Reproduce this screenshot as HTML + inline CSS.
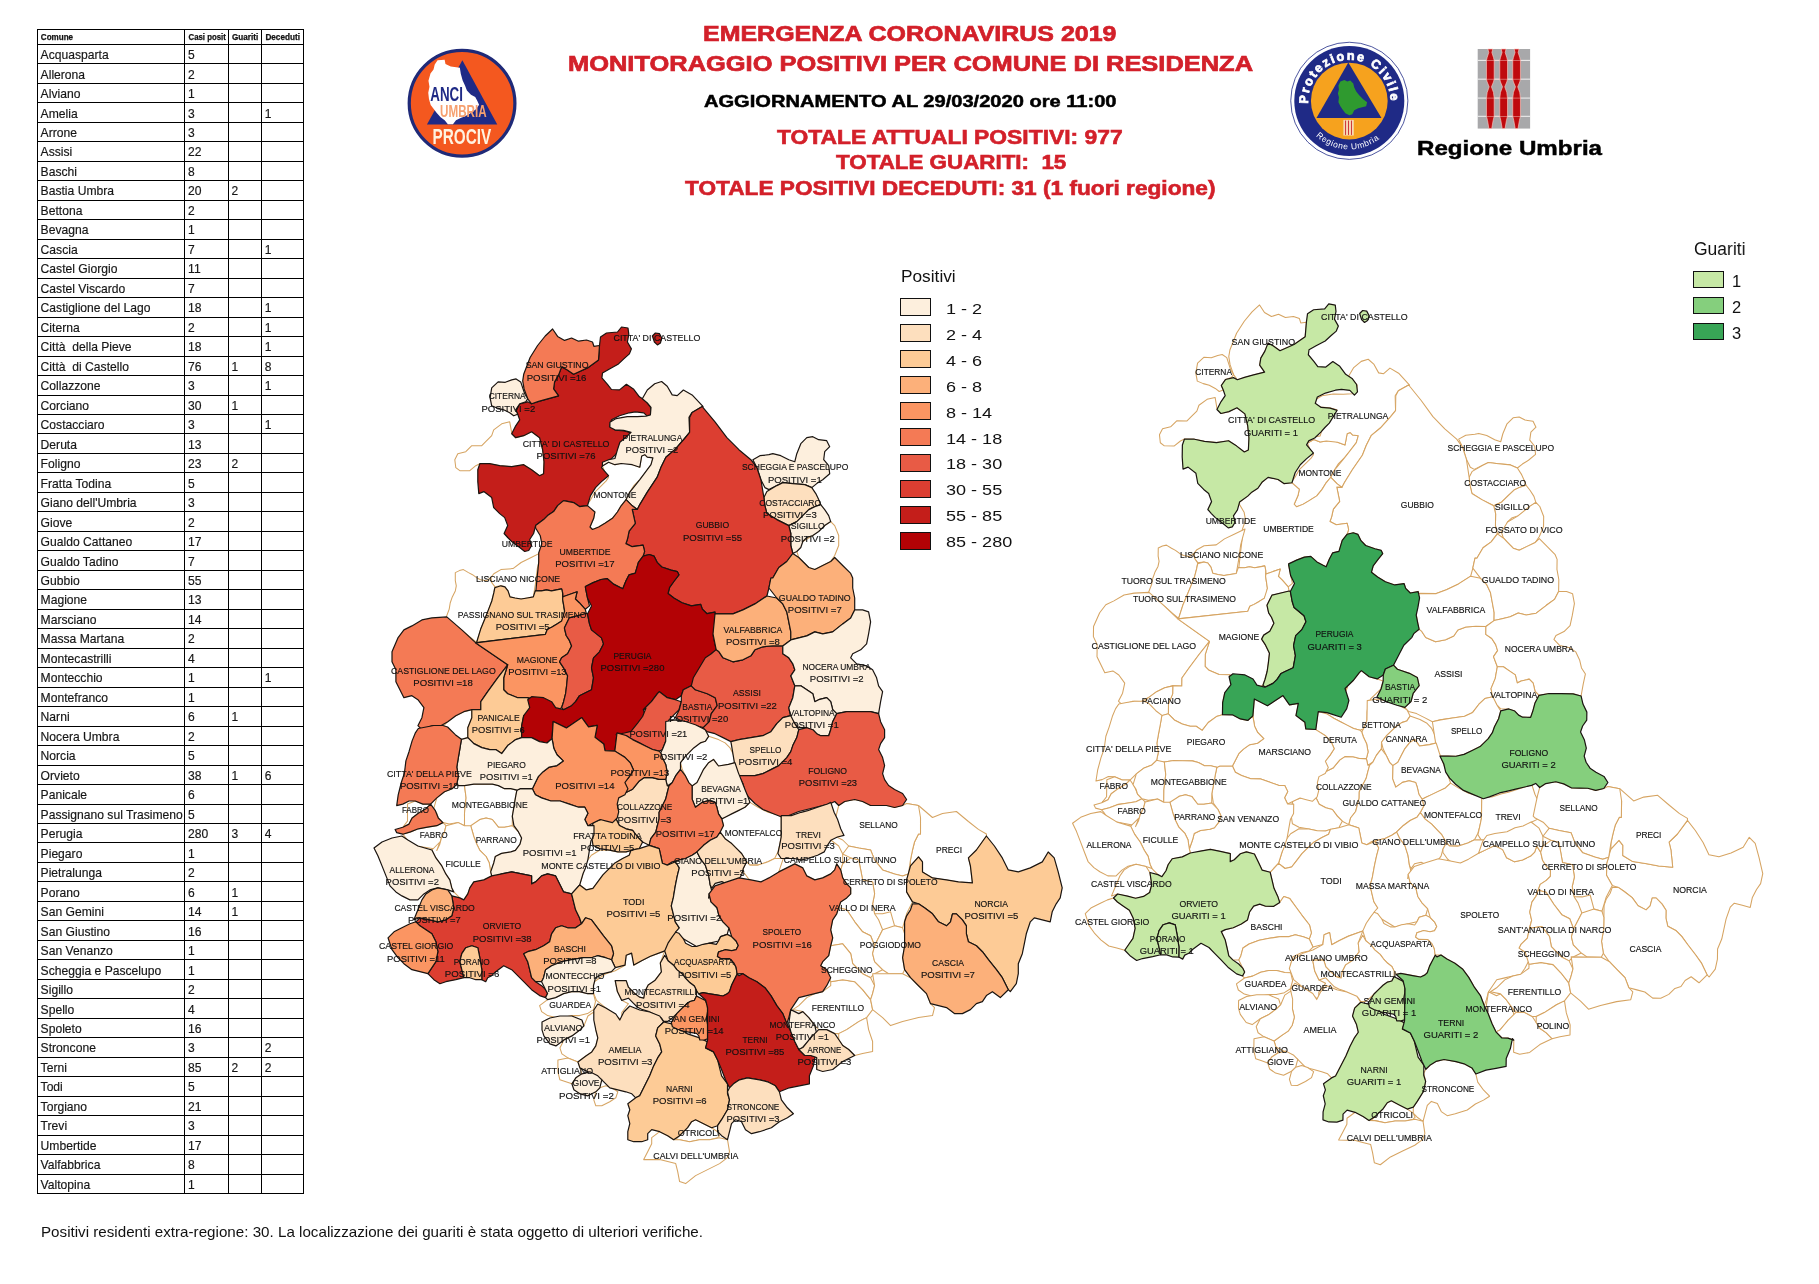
<!DOCTYPE html><html><head><meta charset="utf-8"><style>
html,body{margin:0;padding:0;background:#fff;}
body{width:1819px;height:1284px;position:relative;overflow:hidden;font-family:"Liberation Sans",sans-serif;}
.abs{position:absolute;will-change:transform;}
.tx{position:absolute;white-space:nowrap;line-height:1;transform-origin:0 0;will-change:transform;}
</style></head><body>

<svg class="abs" style="left:0;top:0" width="320" height="1210" viewBox="0 0 320 1210">
<g stroke="#000" stroke-width="1" shape-rendering="crispEdges">
<line x1="37" x2="304.2" y1="29.50" y2="29.50"/>
<line x1="37" x2="304.2" y1="44.90" y2="44.90"/>
<line x1="37" x2="304.2" y1="63.50" y2="63.50"/>
<line x1="37" x2="304.2" y1="83.50" y2="83.50"/>
<line x1="37" x2="304.2" y1="102.50" y2="102.50"/>
<line x1="37" x2="304.2" y1="122.50" y2="122.50"/>
<line x1="37" x2="304.2" y1="141.50" y2="141.50"/>
<line x1="37" x2="304.2" y1="161.50" y2="161.50"/>
<line x1="37" x2="304.2" y1="180.50" y2="180.50"/>
<line x1="37" x2="304.2" y1="200.50" y2="200.50"/>
<line x1="37" x2="304.2" y1="219.50" y2="219.50"/>
<line x1="37" x2="304.2" y1="239.50" y2="239.50"/>
<line x1="37" x2="304.2" y1="258.50" y2="258.50"/>
<line x1="37" x2="304.2" y1="278.50" y2="278.50"/>
<line x1="37" x2="304.2" y1="297.50" y2="297.50"/>
<line x1="37" x2="304.2" y1="317.50" y2="317.50"/>
<line x1="37" x2="304.2" y1="336.50" y2="336.50"/>
<line x1="37" x2="304.2" y1="356.50" y2="356.50"/>
<line x1="37" x2="304.2" y1="375.50" y2="375.50"/>
<line x1="37" x2="304.2" y1="395.50" y2="395.50"/>
<line x1="37" x2="304.2" y1="414.50" y2="414.50"/>
<line x1="37" x2="304.2" y1="433.50" y2="433.50"/>
<line x1="37" x2="304.2" y1="453.50" y2="453.50"/>
<line x1="37" x2="304.2" y1="472.50" y2="472.50"/>
<line x1="37" x2="304.2" y1="492.50" y2="492.50"/>
<line x1="37" x2="304.2" y1="511.50" y2="511.50"/>
<line x1="37" x2="304.2" y1="531.50" y2="531.50"/>
<line x1="37" x2="304.2" y1="550.50" y2="550.50"/>
<line x1="37" x2="304.2" y1="570.50" y2="570.50"/>
<line x1="37" x2="304.2" y1="589.50" y2="589.50"/>
<line x1="37" x2="304.2" y1="609.50" y2="609.50"/>
<line x1="37" x2="304.2" y1="628.50" y2="628.50"/>
<line x1="37" x2="304.2" y1="648.50" y2="648.50"/>
<line x1="37" x2="304.2" y1="667.50" y2="667.50"/>
<line x1="37" x2="304.2" y1="687.50" y2="687.50"/>
<line x1="37" x2="304.2" y1="706.50" y2="706.50"/>
<line x1="37" x2="304.2" y1="726.50" y2="726.50"/>
<line x1="37" x2="304.2" y1="745.50" y2="745.50"/>
<line x1="37" x2="304.2" y1="765.50" y2="765.50"/>
<line x1="37" x2="304.2" y1="784.50" y2="784.50"/>
<line x1="37" x2="304.2" y1="804.50" y2="804.50"/>
<line x1="37" x2="304.2" y1="823.50" y2="823.50"/>
<line x1="37" x2="304.2" y1="842.50" y2="842.50"/>
<line x1="37" x2="304.2" y1="862.50" y2="862.50"/>
<line x1="37" x2="304.2" y1="881.50" y2="881.50"/>
<line x1="37" x2="304.2" y1="901.50" y2="901.50"/>
<line x1="37" x2="304.2" y1="920.50" y2="920.50"/>
<line x1="37" x2="304.2" y1="940.50" y2="940.50"/>
<line x1="37" x2="304.2" y1="959.50" y2="959.50"/>
<line x1="37" x2="304.2" y1="979.50" y2="979.50"/>
<line x1="37" x2="304.2" y1="998.50" y2="998.50"/>
<line x1="37" x2="304.2" y1="1018.50" y2="1018.50"/>
<line x1="37" x2="304.2" y1="1037.50" y2="1037.50"/>
<line x1="37" x2="304.2" y1="1057.50" y2="1057.50"/>
<line x1="37" x2="304.2" y1="1076.50" y2="1076.50"/>
<line x1="37" x2="304.2" y1="1096.50" y2="1096.50"/>
<line x1="37" x2="304.2" y1="1115.50" y2="1115.50"/>
<line x1="37" x2="304.2" y1="1135.50" y2="1135.50"/>
<line x1="37" x2="304.2" y1="1154.50" y2="1154.50"/>
<line x1="37" x2="304.2" y1="1174.50" y2="1174.50"/>
<line x1="37" x2="304.2" y1="1193.50" y2="1193.50"/>
<line x1="37.50" x2="37.50" y1="29" y2="1194.00"/>
<line x1="184.50" x2="184.50" y1="29" y2="1194.00"/>
<line x1="228.50" x2="228.50" y1="29" y2="1194.00"/>
<line x1="261.50" x2="261.50" y1="29" y2="1194.00"/>
<line x1="303.50" x2="303.50" y1="29" y2="1194.00"/>
</g>
<g font-family="Liberation Sans" font-weight="bold" font-size="8.3" fill="#111" stroke="#111" stroke-width="0.25">
<text x="40.8" y="40.0" textLength="32.3" lengthAdjust="spacingAndGlyphs">Comune</text>
<text x="188.5" y="40.0" textLength="37.3" lengthAdjust="spacingAndGlyphs">Casi posit</text>
<text x="232.0" y="40.0" textLength="26.2" lengthAdjust="spacingAndGlyphs">Guariti</text>
<text x="265.4" y="40.0" textLength="34.6" lengthAdjust="spacingAndGlyphs">Deceduti</text>
</g>
<g font-family="Liberation Sans" font-size="12.9" fill="#161616" stroke="#161616" stroke-width="0.18">
<text x="40.6" y="59.10" textLength="68.1" lengthAdjust="spacingAndGlyphs">Acquasparta</text>
<text x="188.1" y="59.10" textLength="6.7" lengthAdjust="spacingAndGlyphs">5</text>
<text x="40.6" y="78.58" textLength="44.5" lengthAdjust="spacingAndGlyphs">Allerona</text>
<text x="188.1" y="78.58" textLength="6.7" lengthAdjust="spacingAndGlyphs">2</text>
<text x="40.6" y="98.06" textLength="39.8" lengthAdjust="spacingAndGlyphs">Alviano</text>
<text x="188.1" y="98.06" textLength="6.7" lengthAdjust="spacingAndGlyphs">1</text>
<text x="40.6" y="117.53" textLength="37.1" lengthAdjust="spacingAndGlyphs">Amelia</text>
<text x="188.1" y="117.53" textLength="6.7" lengthAdjust="spacingAndGlyphs">3</text>
<text x="264.8" y="117.53" textLength="6.7" lengthAdjust="spacingAndGlyphs">1</text>
<text x="40.6" y="137.01" textLength="36.4" lengthAdjust="spacingAndGlyphs">Arrone</text>
<text x="188.1" y="137.01" textLength="6.7" lengthAdjust="spacingAndGlyphs">3</text>
<text x="40.6" y="156.49" textLength="31.7" lengthAdjust="spacingAndGlyphs">Assisi</text>
<text x="188.1" y="156.49" textLength="13.5" lengthAdjust="spacingAndGlyphs">22</text>
<text x="40.6" y="175.97" textLength="36.4" lengthAdjust="spacingAndGlyphs">Baschi</text>
<text x="188.1" y="175.97" textLength="6.7" lengthAdjust="spacingAndGlyphs">8</text>
<text x="40.6" y="195.45" textLength="73.5" lengthAdjust="spacingAndGlyphs">Bastia Umbra</text>
<text x="188.1" y="195.45" textLength="13.5" lengthAdjust="spacingAndGlyphs">20</text>
<text x="231.5" y="195.45" textLength="6.7" lengthAdjust="spacingAndGlyphs">2</text>
<text x="40.6" y="214.92" textLength="41.8" lengthAdjust="spacingAndGlyphs">Bettona</text>
<text x="188.1" y="214.92" textLength="6.7" lengthAdjust="spacingAndGlyphs">2</text>
<text x="40.6" y="234.40" textLength="47.9" lengthAdjust="spacingAndGlyphs">Bevagna</text>
<text x="188.1" y="234.40" textLength="6.7" lengthAdjust="spacingAndGlyphs">1</text>
<text x="40.6" y="253.88" textLength="37.1" lengthAdjust="spacingAndGlyphs">Cascia</text>
<text x="188.1" y="253.88" textLength="6.7" lengthAdjust="spacingAndGlyphs">7</text>
<text x="264.8" y="253.88" textLength="6.7" lengthAdjust="spacingAndGlyphs">1</text>
<text x="40.6" y="273.36" textLength="76.8" lengthAdjust="spacingAndGlyphs">Castel Giorgio</text>
<text x="188.1" y="273.36" textLength="12.6" lengthAdjust="spacingAndGlyphs">11</text>
<text x="40.6" y="292.84" textLength="84.7" lengthAdjust="spacingAndGlyphs">Castel Viscardo</text>
<text x="188.1" y="292.84" textLength="6.7" lengthAdjust="spacingAndGlyphs">7</text>
<text x="40.6" y="312.31" textLength="109.9" lengthAdjust="spacingAndGlyphs">Castiglione del Lago</text>
<text x="188.1" y="312.31" textLength="13.5" lengthAdjust="spacingAndGlyphs">18</text>
<text x="264.8" y="312.31" textLength="6.7" lengthAdjust="spacingAndGlyphs">1</text>
<text x="40.6" y="331.79" textLength="39.1" lengthAdjust="spacingAndGlyphs">Citerna</text>
<text x="188.1" y="331.79" textLength="6.7" lengthAdjust="spacingAndGlyphs">2</text>
<text x="264.8" y="331.79" textLength="6.7" lengthAdjust="spacingAndGlyphs">1</text>
<text x="40.6" y="351.27" textLength="91.0" lengthAdjust="spacingAndGlyphs">Città&nbsp; della Pieve</text>
<text x="188.1" y="351.27" textLength="13.5" lengthAdjust="spacingAndGlyphs">18</text>
<text x="264.8" y="351.27" textLength="6.7" lengthAdjust="spacingAndGlyphs">1</text>
<text x="40.6" y="370.75" textLength="88.3" lengthAdjust="spacingAndGlyphs">Città&nbsp; di Castello</text>
<text x="188.1" y="370.75" textLength="13.5" lengthAdjust="spacingAndGlyphs">76</text>
<text x="231.5" y="370.75" textLength="6.7" lengthAdjust="spacingAndGlyphs">1</text>
<text x="264.8" y="370.75" textLength="6.7" lengthAdjust="spacingAndGlyphs">8</text>
<text x="40.6" y="390.23" textLength="60.0" lengthAdjust="spacingAndGlyphs">Collazzone</text>
<text x="188.1" y="390.23" textLength="6.7" lengthAdjust="spacingAndGlyphs">3</text>
<text x="264.8" y="390.23" textLength="6.7" lengthAdjust="spacingAndGlyphs">1</text>
<text x="40.6" y="409.70" textLength="48.5" lengthAdjust="spacingAndGlyphs">Corciano</text>
<text x="188.1" y="409.70" textLength="13.5" lengthAdjust="spacingAndGlyphs">30</text>
<text x="231.5" y="409.70" textLength="6.7" lengthAdjust="spacingAndGlyphs">1</text>
<text x="40.6" y="429.18" textLength="64.0" lengthAdjust="spacingAndGlyphs">Costacciaro</text>
<text x="188.1" y="429.18" textLength="6.7" lengthAdjust="spacingAndGlyphs">3</text>
<text x="264.8" y="429.18" textLength="6.7" lengthAdjust="spacingAndGlyphs">1</text>
<text x="40.6" y="448.66" textLength="36.4" lengthAdjust="spacingAndGlyphs">Deruta</text>
<text x="188.1" y="448.66" textLength="13.5" lengthAdjust="spacingAndGlyphs">13</text>
<text x="40.6" y="468.14" textLength="39.8" lengthAdjust="spacingAndGlyphs">Foligno</text>
<text x="188.1" y="468.14" textLength="13.5" lengthAdjust="spacingAndGlyphs">23</text>
<text x="231.5" y="468.14" textLength="6.7" lengthAdjust="spacingAndGlyphs">2</text>
<text x="40.6" y="487.62" textLength="70.6" lengthAdjust="spacingAndGlyphs">Fratta Todina</text>
<text x="188.1" y="487.62" textLength="6.7" lengthAdjust="spacingAndGlyphs">5</text>
<text x="40.6" y="507.09" textLength="96.0" lengthAdjust="spacingAndGlyphs">Giano dell'Umbria</text>
<text x="188.1" y="507.09" textLength="6.7" lengthAdjust="spacingAndGlyphs">3</text>
<text x="40.6" y="526.57" textLength="31.7" lengthAdjust="spacingAndGlyphs">Giove</text>
<text x="188.1" y="526.57" textLength="6.7" lengthAdjust="spacingAndGlyphs">2</text>
<text x="40.6" y="546.05" textLength="91.7" lengthAdjust="spacingAndGlyphs">Gualdo Cattaneo</text>
<text x="188.1" y="546.05" textLength="13.5" lengthAdjust="spacingAndGlyphs">17</text>
<text x="40.6" y="565.53" textLength="78.0" lengthAdjust="spacingAndGlyphs">Gualdo Tadino</text>
<text x="188.1" y="565.53" textLength="6.7" lengthAdjust="spacingAndGlyphs">7</text>
<text x="40.6" y="585.01" textLength="39.1" lengthAdjust="spacingAndGlyphs">Gubbio</text>
<text x="188.1" y="585.01" textLength="13.5" lengthAdjust="spacingAndGlyphs">55</text>
<text x="40.6" y="604.48" textLength="46.5" lengthAdjust="spacingAndGlyphs">Magione</text>
<text x="188.1" y="604.48" textLength="13.5" lengthAdjust="spacingAndGlyphs">13</text>
<text x="40.6" y="623.96" textLength="55.9" lengthAdjust="spacingAndGlyphs">Marsciano</text>
<text x="188.1" y="623.96" textLength="13.5" lengthAdjust="spacingAndGlyphs">14</text>
<text x="40.6" y="643.44" textLength="83.6" lengthAdjust="spacingAndGlyphs">Massa Martana</text>
<text x="188.1" y="643.44" textLength="6.7" lengthAdjust="spacingAndGlyphs">2</text>
<text x="40.6" y="662.92" textLength="70.8" lengthAdjust="spacingAndGlyphs">Montecastrilli</text>
<text x="188.1" y="662.92" textLength="6.7" lengthAdjust="spacingAndGlyphs">4</text>
<text x="40.6" y="682.39" textLength="62.0" lengthAdjust="spacingAndGlyphs">Montecchio</text>
<text x="188.1" y="682.39" textLength="6.7" lengthAdjust="spacingAndGlyphs">1</text>
<text x="264.8" y="682.39" textLength="6.7" lengthAdjust="spacingAndGlyphs">1</text>
<text x="40.6" y="701.87" textLength="67.4" lengthAdjust="spacingAndGlyphs">Montefranco</text>
<text x="188.1" y="701.87" textLength="6.7" lengthAdjust="spacingAndGlyphs">1</text>
<text x="40.6" y="721.35" textLength="29.0" lengthAdjust="spacingAndGlyphs">Narni</text>
<text x="188.1" y="721.35" textLength="6.7" lengthAdjust="spacingAndGlyphs">6</text>
<text x="231.5" y="721.35" textLength="6.7" lengthAdjust="spacingAndGlyphs">1</text>
<text x="40.6" y="740.83" textLength="78.8" lengthAdjust="spacingAndGlyphs">Nocera Umbra</text>
<text x="188.1" y="740.83" textLength="6.7" lengthAdjust="spacingAndGlyphs">2</text>
<text x="40.6" y="760.31" textLength="35.0" lengthAdjust="spacingAndGlyphs">Norcia</text>
<text x="188.1" y="760.31" textLength="6.7" lengthAdjust="spacingAndGlyphs">5</text>
<text x="40.6" y="779.78" textLength="39.1" lengthAdjust="spacingAndGlyphs">Orvieto</text>
<text x="188.1" y="779.78" textLength="13.5" lengthAdjust="spacingAndGlyphs">38</text>
<text x="231.5" y="779.78" textLength="6.7" lengthAdjust="spacingAndGlyphs">1</text>
<text x="264.8" y="779.78" textLength="6.7" lengthAdjust="spacingAndGlyphs">6</text>
<text x="40.6" y="799.26" textLength="46.5" lengthAdjust="spacingAndGlyphs">Panicale</text>
<text x="188.1" y="799.26" textLength="6.7" lengthAdjust="spacingAndGlyphs">6</text>
<text x="40.6" y="818.74" textLength="142.2" lengthAdjust="spacingAndGlyphs">Passignano sul Trasimeno</text>
<text x="188.1" y="818.74" textLength="6.7" lengthAdjust="spacingAndGlyphs">5</text>
<text x="40.6" y="838.22" textLength="41.8" lengthAdjust="spacingAndGlyphs">Perugia</text>
<text x="188.1" y="838.22" textLength="20.2" lengthAdjust="spacingAndGlyphs">280</text>
<text x="231.5" y="838.22" textLength="6.7" lengthAdjust="spacingAndGlyphs">3</text>
<text x="264.8" y="838.22" textLength="6.7" lengthAdjust="spacingAndGlyphs">4</text>
<text x="40.6" y="857.70" textLength="41.8" lengthAdjust="spacingAndGlyphs">Piegaro</text>
<text x="188.1" y="857.70" textLength="6.7" lengthAdjust="spacingAndGlyphs">1</text>
<text x="40.6" y="877.17" textLength="61.3" lengthAdjust="spacingAndGlyphs">Pietralunga</text>
<text x="188.1" y="877.17" textLength="6.7" lengthAdjust="spacingAndGlyphs">2</text>
<text x="40.6" y="896.65" textLength="39.1" lengthAdjust="spacingAndGlyphs">Porano</text>
<text x="188.1" y="896.65" textLength="6.7" lengthAdjust="spacingAndGlyphs">6</text>
<text x="231.5" y="896.65" textLength="6.7" lengthAdjust="spacingAndGlyphs">1</text>
<text x="40.6" y="916.13" textLength="63.4" lengthAdjust="spacingAndGlyphs">San Gemini</text>
<text x="188.1" y="916.13" textLength="13.5" lengthAdjust="spacingAndGlyphs">14</text>
<text x="231.5" y="916.13" textLength="6.7" lengthAdjust="spacingAndGlyphs">1</text>
<text x="40.6" y="935.61" textLength="69.4" lengthAdjust="spacingAndGlyphs">San Giustino</text>
<text x="188.1" y="935.61" textLength="13.5" lengthAdjust="spacingAndGlyphs">16</text>
<text x="40.6" y="955.09" textLength="72.1" lengthAdjust="spacingAndGlyphs">San Venanzo</text>
<text x="188.1" y="955.09" textLength="6.7" lengthAdjust="spacingAndGlyphs">1</text>
<text x="40.6" y="974.56" textLength="120.7" lengthAdjust="spacingAndGlyphs">Scheggia e Pascelupo</text>
<text x="188.1" y="974.56" textLength="6.7" lengthAdjust="spacingAndGlyphs">1</text>
<text x="40.6" y="994.04" textLength="32.4" lengthAdjust="spacingAndGlyphs">Sigillo</text>
<text x="188.1" y="994.04" textLength="6.7" lengthAdjust="spacingAndGlyphs">2</text>
<text x="40.6" y="1013.52" textLength="33.7" lengthAdjust="spacingAndGlyphs">Spello</text>
<text x="188.1" y="1013.52" textLength="6.7" lengthAdjust="spacingAndGlyphs">4</text>
<text x="40.6" y="1033.00" textLength="41.1" lengthAdjust="spacingAndGlyphs">Spoleto</text>
<text x="188.1" y="1033.00" textLength="13.5" lengthAdjust="spacingAndGlyphs">16</text>
<text x="40.6" y="1052.48" textLength="55.3" lengthAdjust="spacingAndGlyphs">Stroncone</text>
<text x="188.1" y="1052.48" textLength="6.7" lengthAdjust="spacingAndGlyphs">3</text>
<text x="264.8" y="1052.48" textLength="6.7" lengthAdjust="spacingAndGlyphs">2</text>
<text x="40.6" y="1071.95" textLength="26.3" lengthAdjust="spacingAndGlyphs">Terni</text>
<text x="188.1" y="1071.95" textLength="13.5" lengthAdjust="spacingAndGlyphs">85</text>
<text x="231.5" y="1071.95" textLength="6.7" lengthAdjust="spacingAndGlyphs">2</text>
<text x="264.8" y="1071.95" textLength="6.7" lengthAdjust="spacingAndGlyphs">2</text>
<text x="40.6" y="1091.43" textLength="22.2" lengthAdjust="spacingAndGlyphs">Todi</text>
<text x="188.1" y="1091.43" textLength="6.7" lengthAdjust="spacingAndGlyphs">5</text>
<text x="40.6" y="1110.91" textLength="46.5" lengthAdjust="spacingAndGlyphs">Torgiano</text>
<text x="188.1" y="1110.91" textLength="13.5" lengthAdjust="spacingAndGlyphs">21</text>
<text x="40.6" y="1130.39" textLength="26.5" lengthAdjust="spacingAndGlyphs">Trevi</text>
<text x="188.1" y="1130.39" textLength="6.7" lengthAdjust="spacingAndGlyphs">3</text>
<text x="40.6" y="1149.87" textLength="55.9" lengthAdjust="spacingAndGlyphs">Umbertide</text>
<text x="188.1" y="1149.87" textLength="13.5" lengthAdjust="spacingAndGlyphs">17</text>
<text x="40.6" y="1169.34" textLength="59.8" lengthAdjust="spacingAndGlyphs">Valfabbrica</text>
<text x="188.1" y="1169.34" textLength="6.7" lengthAdjust="spacingAndGlyphs">8</text>
<text x="40.6" y="1188.82" textLength="49.7" lengthAdjust="spacingAndGlyphs">Valtopina</text>
<text x="188.1" y="1188.82" textLength="6.7" lengthAdjust="spacingAndGlyphs">1</text>
</g></svg>
<div class="tx" style="left:703.0px;top:22.2px;font-size:22.8px;color:#d3202a;font-weight:bold;transform:scaleX(1.0952);-webkit-text-stroke:0.7px #d3202a;">EMERGENZA CORONAVIRUS 2019</div>
<div class="tx" style="left:568.0px;top:52.7px;font-size:22.0px;color:#d3202a;font-weight:bold;transform:scaleX(1.1563);-webkit-text-stroke:0.7px #d3202a;">MONITORAGGIO POSITIVI PER COMUNE DI RESIDENZA</div>
<div class="tx" style="left:703.8px;top:93.0px;font-size:16.5px;color:#000;font-weight:bold;transform:scaleX(1.2168);-webkit-text-stroke:0.5px #000;">AGGIORNAMENTO AL 29/03/2020 ore 11:00</div>
<div class="tx" style="left:777.3px;top:128.4px;font-size:19.8px;color:#d3202a;font-weight:bold;transform:scaleX(1.1549);-webkit-text-stroke:0.6px #d3202a;">TOTALE ATTUALI POSITIVI: 977</div>
<div class="tx" style="left:835.6px;top:153.4px;font-size:19.8px;color:#d3202a;font-weight:bold;transform:scaleX(1.1306);-webkit-text-stroke:0.6px #d3202a;">TOTALE GUARITI:&nbsp; 15</div>
<div class="tx" style="left:685.0px;top:179.0px;font-size:19.8px;color:#d3202a;font-weight:bold;transform:scaleX(1.1456);-webkit-text-stroke:0.6px #d3202a;">TOTALE POSITIVI DECEDUTI: 31 (1 fuori regione)</div>
<div class="tx" style="left:1417.4px;top:136.5px;font-size:21px;color:#000;font-weight:bold;transform:scaleX(1.1489);-webkit-text-stroke:0.5px #000;">Regione Umbria</div>
<div class="tx" style="left:41.0px;top:1224.6px;font-size:14.5px;color:#111;transform:scaleX(1.0463);">Positivi residenti extra-regione: 30. La localizzazione dei guariti è stata oggetto di ulteriori verifiche.</div>
<svg class="abs" style="left:390px;top:40px" width="150" height="130" viewBox="0 0 1482 1284" preserveAspectRatio="none">
<circle cx="712" cy="625" r="522" fill="#f4581f" stroke="#1f2a78" stroke-width="32"/>
<polygon points="715,200 365,835 1060,835" fill="#1f2a86"/>
<path d="M470,200 L540,195 L548,238 L600,262 L690,275 L700,335 L718,400 L742,452 L760,500 L800,540 L842,562 L862,600 L880,640 L852,682 L800,720 L742,752 L692,772 L652,792 L622,832 L572,832 L540,792 L500,762 L462,722 L432,682 L402,642 L385,582 L378,522 L390,462 L380,402 L400,332 L430,292 L442,242 Z" fill="#fff"/>
<text x="398" y="606" font-family="Liberation Sans" font-weight="bold" font-size="205" fill="#1f2a86" textLength="322" lengthAdjust="spacingAndGlyphs">ANCI</text>
<text x="495" y="762" font-family="Liberation Sans" font-weight="bold" font-size="160" fill="#f6a070" textLength="460" lengthAdjust="spacingAndGlyphs">UMBRIA</text>
<text x="420" y="1025" font-family="Liberation Sans" font-weight="bold" font-size="225" fill="#fff3e0" textLength="580" lengthAdjust="spacingAndGlyphs">PROCIV</text>
</svg>
<svg class="abs" style="left:1285px;top:38px" width="130" height="127" viewBox="0 0 1314 1284" preserveAspectRatio="none">
<defs>
<path id="pcTop" d="M 236.6,673.2 A 415 415 0 1 1 1063.4,673.2"/>
<path id="pcBot" d="M 304.6,982.4 A 488 488 0 0 0 995.4,982.4"/>
</defs>
<circle cx="650" cy="635" r="592" fill="#fff" stroke="#1f2a86" stroke-width="8"/>
<circle cx="650" cy="636" r="556" fill="#1f2a86"/>
<circle cx="650" cy="637" r="388" fill="#f6a21e"/>
<polygon points="640,248 318,808 975,808" fill="#1f2a86"/>
<path d="M560,440 L600,425 L630,440 L660,430 L690,460 L700,500 L720,540 L750,580 L790,620 L830,650 L820,690 L780,700 L740,710 L700,730 L680,770 L650,780 L610,760 L580,720 L560,690 L540,650 L545,600 L535,560 L545,520 L540,480 Z" fill="#2f9a2f"/>
<rect x="590" y="828" width="105" height="158" fill="#f7d9b5"/>
<g stroke="#c8202a" stroke-width="9"><line x1="612" y1="835" x2="612" y2="980"/><line x1="642" y1="835" x2="642" y2="980"/><line x1="672" y1="835" x2="672" y2="980"/></g>
<text font-family="Liberation Sans" font-weight="bold" font-size="128" fill="#fff" stroke="#fff" stroke-width="7"><textPath href="#pcTop" startOffset="8" textLength="1330" lengthAdjust="spacing">Protezione Civile</textPath></text>
<text font-family="Liberation Sans" font-size="86" fill="#fff"><textPath href="#pcBot" startOffset="10" textLength="700" lengthAdjust="spacing">Regione  Umbria</textPath></text>
</svg>
<svg class="abs" style="left:1470px;top:42px" width="70" height="90" viewBox="0 0 999 1284" preserveAspectRatio="none"><rect x="110" y="100" width="748" height="1135" fill="#a8a8aa"/><rect x="110" y="255" width="748" height="14" fill="#f4f4f4"/><rect x="110" y="523" width="748" height="14" fill="#f4f4f4"/><rect x="110" y="793" width="748" height="14" fill="#f4f4f4"/><rect x="110" y="1053" width="748" height="14" fill="#f4f4f4"/><polygon points="255,100 325,100 312,150 335,220 345,262 345,530 335,570 306,640 335,720 345,800 345,1060 330,1120 310,1235 270,1235 250,1120 235,1060 235,800 245,720 274,640 245,570 235,530 235,262 245,220 268,150" fill="#bf0a0e" stroke="#ffc8c0" stroke-width="9"/><polygon points="445,100 515,100 502,150 525,220 535,262 535,530 525,570 496,640 525,720 535,800 535,1060 520,1120 500,1235 460,1235 440,1120 425,1060 425,800 435,720 464,640 435,570 425,530 425,262 435,220 458,150" fill="#bf0a0e" stroke="#ffc8c0" stroke-width="9"/><polygon points="630,100 700,100 687,150 710,220 720,262 720,530 710,570 681,640 710,720 720,800 720,1060 705,1120 685,1235 645,1235 625,1120 610,1060 610,800 620,720 649,640 620,570 610,530 610,262 620,220 643,150" fill="#bf0a0e" stroke="#ffc8c0" stroke-width="9"/><rect x="230" y="258" width="500" height="8" fill="#f6c9c2" opacity="0.85"/><rect x="230" y="526" width="500" height="8" fill="#f6c9c2" opacity="0.85"/><rect x="230" y="796" width="500" height="8" fill="#f6c9c2" opacity="0.85"/><rect x="230" y="1056" width="500" height="8" fill="#f6c9c2" opacity="0.85"/></svg>
<div class="tx" style="left:901.2px;top:268.3px;font-size:17px;color:#111;transform:scaleX(1.0158);">Positivi</div>
<div class="abs" style="left:900px;top:298.0px;width:29px;height:15.6px;background:#fdefdd;border:1.2px solid #111;"></div>
<div class="tx" style="left:945.6px;top:300.7px;font-size:15.3px;color:#111;transform:scaleX(1.1800);">1 - 2</div>
<div class="abs" style="left:900px;top:323.9px;width:29px;height:15.6px;background:#fddfbe;border:1.2px solid #111;"></div>
<div class="tx" style="left:945.6px;top:326.7px;font-size:15.3px;color:#111;transform:scaleX(1.1800);">2 - 4</div>
<div class="abs" style="left:900px;top:349.9px;width:29px;height:15.6px;background:#fdcb96;border:1.2px solid #111;"></div>
<div class="tx" style="left:945.6px;top:352.6px;font-size:15.3px;color:#111;transform:scaleX(1.1800);">4 - 6</div>
<div class="abs" style="left:900px;top:375.9px;width:29px;height:15.6px;background:#fcb07a;border:1.2px solid #111;"></div>
<div class="tx" style="left:945.6px;top:378.6px;font-size:15.3px;color:#111;transform:scaleX(1.1800);">6 - 8</div>
<div class="abs" style="left:900px;top:401.8px;width:29px;height:15.6px;background:#fb9562;border:1.2px solid #111;"></div>
<div class="tx" style="left:945.6px;top:404.5px;font-size:15.3px;color:#111;transform:scaleX(1.1800);">8 - 14</div>
<div class="abs" style="left:900px;top:427.8px;width:29px;height:15.6px;background:#f47a55;border:1.2px solid #111;"></div>
<div class="tx" style="left:945.6px;top:430.5px;font-size:15.3px;color:#111;transform:scaleX(1.1800);">14 - 18</div>
<div class="abs" style="left:900px;top:453.7px;width:29px;height:15.6px;background:#e85b45;border:1.2px solid #111;"></div>
<div class="tx" style="left:945.6px;top:456.4px;font-size:15.3px;color:#111;transform:scaleX(1.1800);">18 - 30</div>
<div class="abs" style="left:900px;top:479.6px;width:29px;height:15.6px;background:#dc3e31;border:1.2px solid #111;"></div>
<div class="tx" style="left:945.6px;top:482.4px;font-size:15.3px;color:#111;transform:scaleX(1.1800);">30 - 55</div>
<div class="abs" style="left:900px;top:505.6px;width:29px;height:15.6px;background:#c41e1a;border:1.2px solid #111;"></div>
<div class="tx" style="left:945.6px;top:508.3px;font-size:15.3px;color:#111;transform:scaleX(1.1800);">55 - 85</div>
<div class="abs" style="left:900px;top:531.5px;width:29px;height:15.6px;background:#b30205;border:1.2px solid #111;"></div>
<div class="tx" style="left:945.6px;top:534.3px;font-size:15.3px;color:#111;transform:scaleX(1.1800);">85 - 280</div>
<div class="tx" style="left:1693.5px;top:240.9px;font-size:17.5px;color:#111;transform:scaleX(0.9972);">Guariti</div>
<div class="abs" style="left:1693.4px;top:271.3px;width:29.4px;height:15.4px;background:#c6e8a5;border:1.2px solid #111;"></div>
<div class="tx" style="left:1732.2px;top:272.5px;font-size:16.5px;color:#111;transform:scaleX(1.0000);">1</div>
<div class="abs" style="left:1693.4px;top:297.3px;width:29.4px;height:15.4px;background:#85cf7d;border:1.2px solid #111;"></div>
<div class="tx" style="left:1732.2px;top:298.7px;font-size:16.5px;color:#111;transform:scaleX(1.0000);">2</div>
<div class="abs" style="left:1693.4px;top:323.3px;width:29.4px;height:15.4px;background:#38a556;border:1.2px solid #111;"></div>
<div class="tx" style="left:1732.2px;top:324.9px;font-size:16.5px;color:#111;transform:scaleX(1.0000);">3</div>
<svg class="abs" style="left:0;top:0" width="1819" height="1284" viewBox="0 0 1819 1284">
<g stroke-linejoin="round">
<polygon points="511.7,432.8 509.7,421.8 501.7,423.8 493.7,429.8 491.7,435.7 485.7,441.7 481.8,445.7 471.8,445.7 465.8,451.7 457.8,453.7 454.8,459.7 455.8,467.7 459.8,470.7 469.8,470.7 475.8,465.7 479.8,463.7 489.7,463.7 499.7,465.7 511.7,466.7 523.7,464.7 531.6,469.7 539.6,475.7 543.6,473.7 544.0,461.7 542.6,449.7 539.6,437.7 531.6,431.8 523.7,435.7 515.7,437.7" fill="#fff" stroke="#d6a462" stroke-width="1.05"/>
<polygon points="602.4,465.9 608.6,462.2 614.9,464.7 621.1,463.5 627.3,462.8 632.3,464.7 639.8,467.2 641.7,456.0 644.8,454.7 647.3,457.2 652.9,457.8 651.0,464.7 644.8,473.4 639.8,479.6 633.6,485.9 629.8,492.1 626.1,499.6 621.1,505.8 617.4,512.0 612.4,518.3 604.9,523.2 598.7,527.0 592.5,529.5 590.0,527.0 593.7,518.3 594.9,512.0 587.5,509.5 586.2,505.8 590.0,500.8 594.9,492.1 601.2,485.9 606.2,480.9 608.6,477.2 604.9,472.2" fill="#fff" stroke="#d6a462" stroke-width="1.05"/>
<polygon points="796.8,551.5 802.8,541.5 812.8,535.5 824.7,525.6 830.7,521.6 834.7,525.6 838.7,535.5 838.7,545.5 834.7,555.5 830.7,561.5 822.7,565.5 814.8,569.5 808.8,567.5 802.8,561.5 798.8,557.5" fill="#fff" stroke="#d6a462" stroke-width="1.05"/>
<polygon points="541.4,552.4 531.2,557.5 521.1,562.5 513.0,568.6 500.9,569.6 493.8,573.7 490.7,577.7 491.8,582.8 494.8,586.8 500.9,585.8 504.9,586.8 508.0,590.9 510.0,596.9 515.0,598.0 521.1,599.0 527.2,598.0 533.3,596.9 534.3,590.9 535.3,584.8 536.3,576.7 537.3,568.6 539.3,560.5" fill="#fff" stroke="#d6a462" stroke-width="1.05"/>
<polygon points="490.7,577.7 491.8,582.8 494.8,586.8 493.8,592.9 491.8,601.0 488.7,609.1 484.7,619.2 480.6,629.3 476.6,642.5 470.5,637.4 463.4,631.4 455.3,625.3 446.2,617.2 449.2,609.1 450.2,603.0 452.3,596.9 455.3,590.9 456.3,585.8 455.3,580.7 455.3,572.6 459.4,570.6 463.4,569.6 468.5,572.6 472.5,574.7 476.6,577.7 480.6,579.7 486.7,580.7" fill="#fff" stroke="#d6a462" stroke-width="1.05"/>
<polygon points="447.8,721.7 455.8,715.7 463.8,711.7 471.8,709.7 471.8,717.7 467.8,727.7 467.8,737.6 461.8,739.6 455.8,737.6 447.8,731.7 443.8,725.7" fill="#fff" stroke="#d6a462" stroke-width="1.05"/>
<polygon points="705.3,741.3 708.6,736.3 718.5,739.6 725.1,742.9 730.1,747.9 733.4,754.5 735.0,762.7 728.4,764.4 718.5,766.0 713.5,759.4 708.6,762.7 703.6,769.3 700.3,775.9 697.0,782.6 692.1,785.9 688.8,782.6 685.5,775.9 682.2,769.3 680.5,762.7 685.5,756.1 688.8,752.8 693.7,747.9 700.3,742.9" fill="#fff" stroke="#d6a462" stroke-width="1.05"/>
<polygon points="720.2,832.1 723.5,825.5 721.8,818.9 725.1,817.2 731.7,813.9 738.3,810.6 744.9,807.3 749.9,802.4 758.1,807.3 768.0,812.3 774.6,813.9 781.2,815.6 781.2,825.5 781.2,837.0 779.6,845.3 777.9,851.9 774.6,858.5 768.0,861.8 758.1,865.1 749.9,865.1 746.6,861.8 741.6,853.5 736.7,848.6 731.7,843.6 725.1,838.7" fill="#fff" stroke="#d6a462" stroke-width="1.05"/>
<polygon points="579.8,884.9 583.1,873.4 586.4,861.8 591.4,855.2 599.6,850.2 609.5,850.2 617.8,851.9 626.0,851.9 631.0,850.2 629.3,855.2 622.7,858.5 614.5,863.5 607.9,870.1 602.9,875.0 598.0,881.6 593.0,888.2 586.4,889.9" fill="#fff" stroke="#d6a462" stroke-width="1.05"/>
<polygon points="407.5,804.1 415.2,801.0 422.9,804.1 430.6,804.1 426.0,808.7 418.3,813.3 412.1,818.0 409.0,824.1 402.8,827.2 407.5,821.1 407.5,813.3" fill="#fff" stroke="#d6a462" stroke-width="1.05"/>
<polygon points="402.8,834.2 410.5,831.9 418.3,828.8 427.5,827.2 436.8,825.7 442.9,822.6 446.0,825.7 444.5,831.9 441.4,838.0 439.8,844.2 436.8,850.4 433.7,848.8 424.4,847.3 415.2,845.7 409.0,842.6 405.9,838.0" fill="#fff" stroke="#d6a462" stroke-width="1.05"/>
<polygon points="436.8,797.9 444.5,791.8 452.2,788.7 456.8,784.1 464.5,785.6 466.1,797.9 464.5,813.3 464.5,825.7 458.3,822.6 449.1,824.1 442.9,822.6 438.3,818.0 436.8,813.3 433.7,808.7" fill="#fff" stroke="#d6a462" stroke-width="1.05"/>
<polygon points="464.5,785.6 473.8,784.1 483.0,784.1 492.3,784.1 498.4,785.6 504.6,788.7 510.8,788.7 516.9,790.2 515.4,797.9 513.9,807.2 512.3,816.4 512.3,825.7 504.6,827.2 498.4,827.2 492.3,819.5 486.1,818.0 479.9,819.5 473.8,825.7 467.6,827.2 464.5,825.7 464.5,813.3 466.1,797.9" fill="#fff" stroke="#d6a462" stroke-width="1.05"/>
<polygon points="470.7,825.7 479.9,819.5 486.1,818.0 492.3,819.5 498.4,827.2 504.6,827.2 512.3,825.7 518.5,831.9 521.6,838.0 520.0,844.2 515.4,850.4 510.8,851.9 501.5,853.4 495.3,856.5 493.8,862.7 490.7,871.9 489.2,862.7 486.1,856.5 479.9,850.4 476.8,844.2 473.8,836.5" fill="#fff" stroke="#d6a462" stroke-width="1.05"/>
<polygon points="436.8,850.4 439.8,844.2 441.4,838.0 444.5,831.9 446.0,825.7 458.3,822.6 464.5,825.7 470.7,825.7 473.8,836.5 476.8,844.2 479.9,850.4 486.1,856.5 489.2,862.7 490.7,871.9 492.3,878.1 491.7,875.9 483.8,879.9 473.8,881.9 469.8,887.9 467.8,893.9 463.8,899.9 459.8,897.9 455.8,893.9 453.8,891.9 451.8,887.9 449.8,879.9 445.8,873.9 441.8,865.9 435.9,857.9 431.9,850.0 439.9,842.0" fill="#fff" stroke="#d6a462" stroke-width="1.05"/>
<polygon points="547.6,999.6 555.6,997.6 563.6,993.6 571.6,991.7 579.5,991.7 587.5,993.6 593.5,993.6 595.5,1001.6 593.5,1009.6 587.5,1013.6 579.5,1015.6 571.6,1015.6 563.6,1017.6 555.6,1017.6 547.6,1015.6 541.6,1011.6 539.6,1005.6" fill="#fff" stroke="#d6a462" stroke-width="1.05"/>
<polygon points="594.3,981.7 605.3,974.0 615.2,970.7 625.1,965.2 626.2,955.3 631.7,953.1 633.9,965.2 641.6,960.8 650.4,956.4 664.7,950.9 660.3,963.0 661.4,971.8 654.8,980.6 648.2,985.0 644.9,991.6 643.8,998.2 639.4,997.1 633.9,992.7 628.4,987.2 626.2,980.6 615.2,980.6 617.4,991.6 621.8,1000.4 628.4,1003.7 621.8,1012.5 621.8,1020.2 613.0,1013.6 602.0,1004.8 596.5,1000.4 592.1,989.4" fill="#fff" stroke="#d6a462" stroke-width="1.05"/>
<polygon points="746.6,861.8 749.9,865.1 758.1,865.1 768.0,861.8 774.6,858.5 781.2,858.5 787.8,858.5 794.5,861.8 791.2,865.1 789.5,871.7 784.5,876.7 774.6,880.0 764.7,881.6 754.8,883.3 748.2,878.3 743.3,871.7 743.3,868.4" fill="#fff" stroke="#d6a462" stroke-width="1.05"/>
<polygon points="782.8,859.9 786.8,854.0 794.8,852.0 806.8,850.0 814.8,846.0 822.7,844.0 830.7,840.0 838.7,846.0 842.7,854.0 842.7,863.9 840.7,869.9 836.7,863.9 834.7,869.9 830.7,873.9 822.7,877.9 814.8,879.9 806.8,875.9 802.8,867.9 794.8,863.9 786.8,867.9 778.8,871.9" fill="#fff" stroke="#d6a462" stroke-width="1.05"/>
<polygon points="579.9,1029.9 583.9,1025.9 587.9,1016.0 593.8,1012.0 595.8,1020.0 595.8,1029.9 597.8,1037.9 595.8,1045.9 591.8,1051.9 585.9,1055.9 577.9,1061.9 567.9,1057.9 561.9,1053.9 559.9,1047.9 563.9,1039.9 571.9,1035.9" fill="#fff" stroke="#d6a462" stroke-width="1.05"/>
<polygon points="557.9,1059.9 567.9,1057.9 577.9,1061.9 579.9,1067.9 581.9,1073.8 575.9,1077.8 571.9,1083.8 565.9,1081.8 559.9,1079.8 557.9,1071.8" fill="#fff" stroke="#d6a462" stroke-width="1.05"/>
<polygon points="595.8,1091.8 599.8,1087.8 605.8,1085.8 611.8,1087.8 617.8,1091.8 615.8,1097.8 609.8,1101.8 601.8,1105.8 595.8,1105.8 593.8,1099.8" fill="#fff" stroke="#d6a462" stroke-width="1.05"/>
<polygon points="687.6,1127.7 691.6,1121.7 695.6,1119.7 703.6,1123.7 711.6,1127.7 717.6,1131.7 719.6,1135.7 717.6,1137.7 709.6,1139.7 699.6,1139.7 689.6,1141.7 679.6,1139.7 675.7,1139.7 679.6,1135.7 683.6,1131.7" fill="#fff" stroke="#d6a462" stroke-width="1.05"/>
<polygon points="643.7,1159.6 647.7,1151.7 651.7,1143.7 651.7,1137.7 659.7,1131.7 667.7,1135.7 673.7,1139.7 679.6,1139.7 689.6,1141.7 699.6,1139.7 709.6,1139.7 719.6,1137.7 727.5,1139.7 729.5,1151.7 727.5,1157.7 719.6,1163.6 707.6,1169.6 695.6,1175.6 685.6,1183.6 679.6,1181.6 677.7,1171.6 675.7,1163.6 667.7,1161.6 659.7,1159.6 651.7,1159.6" fill="#fff" stroke="#d6a462" stroke-width="1.05"/>
<polygon points="792.8,1009.6 798.8,1005.6 806.8,997.6 814.8,993.6 822.7,991.7 830.7,985.7 830.7,981.7 842.7,979.7 854.7,981.7 862.6,989.7 870.6,999.6 872.6,1009.6 866.6,1017.6 858.7,1021.6 846.7,1029.6 838.7,1033.6 834.7,1033.6 826.7,1029.6 818.7,1029.6 814.8,1025.6 808.8,1017.6 802.8,1011.6" fill="#fff" stroke="#d6a462" stroke-width="1.05"/>
<polygon points="838.7,1033.6 846.7,1029.6 858.7,1021.6 866.6,1017.6 868.6,1029.6 872.6,1041.5 872.6,1051.5 862.6,1053.5 854.7,1055.5 848.7,1049.5 842.7,1045.5 838.7,1039.5" fill="#fff" stroke="#d6a462" stroke-width="1.05"/>
<polygon points="906.6,803.5 918.5,805.5 932.5,817.5 942.5,813.5 956.4,811.5 968.4,821.5 978.4,829.4 986.4,834.0 986.4,836.0 976.4,850.0 968.4,857.9 970.4,865.9 972.4,882.9 958.4,881.9 946.5,879.9 932.5,877.9 922.5,871.9 922.5,861.9 918.5,856.9 910.5,865.9 910.5,859.9 912.5,850.0 914.5,842.0 918.5,834.0 920.5,834.0 920.5,817.5" fill="#fff" stroke="#d6a462" stroke-width="1.05"/>
<polygon points="838.7,805.5 844.7,801.5 854.7,799.5 862.6,801.5 870.6,805.5 878.6,805.5 886.6,805.5 894.6,807.5 902.6,805.5 906.6,803.5 918.5,805.5 920.5,817.5 920.5,834.0 918.5,834.0 914.5,842.0 912.5,850.0 910.5,859.9 908.5,873.9 902.6,875.9 894.6,873.9 882.6,869.9 874.6,859.9 870.6,850.0 858.7,848.0 848.7,846.0 842.7,840.0 834.7,836.0 832.7,834.0 832.7,834.0 834.7,823.5 836.7,813.5" fill="#fff" stroke="#d6a462" stroke-width="1.05"/>
<polygon points="842.7,854.0 848.7,846.0 858.7,848.0 870.6,850.0 874.6,859.9 882.6,869.9 894.6,873.9 902.6,875.9 908.5,873.9 906.6,879.9 906.6,891.9 912.5,901.9 906.6,913.8 902.6,927.8 894.6,925.8 890.6,911.8 882.6,913.8 874.6,913.8 872.6,903.8 874.6,893.9 872.6,881.9 862.6,879.9 860.7,869.9 858.7,859.9 850.7,857.9" fill="#fff" stroke="#d6a462" stroke-width="1.05"/>
<polygon points="842.7,863.9 850.7,857.9 858.7,859.9 860.7,869.9 862.6,879.9 872.6,881.9 874.6,893.9 872.6,903.8 874.6,913.8 878.6,919.8 882.6,929.8 878.6,937.8 874.6,945.8 870.6,935.8 862.6,931.8 854.7,921.8 846.7,909.8 838.7,907.8 840.7,901.9 846.7,897.9 850.7,893.9 850.7,887.9 846.7,883.9 842.7,877.9 840.7,869.9" fill="#fff" stroke="#d6a462" stroke-width="1.05"/>
<polygon points="830.7,945.8 832.7,937.8 830.7,929.8 832.7,919.8 836.7,913.8 838.7,907.8 846.7,909.8 854.7,921.8 862.6,931.8 870.6,935.8 874.6,945.8 872.6,953.7 874.6,961.7 882.6,969.7 874.6,973.7 870.6,977.7 862.6,973.7 852.7,963.7 850.7,953.7 842.7,943.8" fill="#fff" stroke="#d6a462" stroke-width="1.05"/>
<polygon points="820.7,965.7 822.7,961.7 828.7,955.7 830.7,945.8 842.7,943.8 850.7,953.7 852.7,963.7 862.6,973.7 870.6,977.7 874.6,985.7 872.6,993.6 870.6,999.6 862.6,989.7 854.7,981.7 842.7,979.7 830.7,981.7 826.7,969.7" fill="#fff" stroke="#d6a462" stroke-width="1.05"/>
<polygon points="882.6,929.8 894.6,925.8 902.6,927.8 904.6,933.8 904.6,945.8 902.6,957.7 904.6,969.7 902.6,973.7 888.6,973.7 882.6,969.7 874.6,961.7 872.6,953.7 874.6,945.8 878.6,937.8" fill="#fff" stroke="#d6a462" stroke-width="1.05"/>
<polygon points="872.6,973.7 888.6,973.7 902.6,973.7 910.5,977.7 918.5,985.7 926.5,993.6 930.5,1003.6 934.5,1007.6 932.5,1015.6 918.5,1017.6 902.6,1021.6 890.6,1025.6 882.6,1017.6 872.6,1009.6 870.6,999.6 872.6,993.6 874.6,985.7" fill="#fff" stroke="#d6a462" stroke-width="1.05"/>
<polygon points="599.5,345.5 600.5,337.0 606.5,333.0 617.5,332.0 621.5,327.0 628.0,328.0 628.8,334.4 627.4,342.0 631.4,348.9 629.4,353.9 623.8,358.9 618.5,363.9 609.5,368.9 602.5,372.9 601.9,377.9 607.5,384.3 611.5,389.5 619.5,389.9 626.4,384.3 633.4,388.9 639.4,396.8 645.8,400.8 650.4,406.8 651.4,414.2 648.4,417.4 643.8,412.8 635.4,411.8 629.4,412.8 619.5,415.8 611.5,419.8 609.5,426.2 615.5,430.2 624.4,430.8 631.4,432.8 627.4,439.7 623.8,445.7 619.5,450.1 615.5,454.7 609.5,460.7 603.5,463.7 601.5,467.7 608.5,475.7 601.5,481.6 595.5,487.6 590.5,495.6 587.5,505.6 579.5,506.6 573.6,502.6 563.6,500.6 557.6,505.6 553.6,511.6 547.6,515.6 543.6,519.6 535.6,525.6 533.6,533.5 529.7,539.5 531.6,545.5 528.7,550.5 524.7,551.5 519.7,547.5 511.7,541.5 507.7,537.5 504.1,533.5 507.7,525.6 504.7,517.6 499.7,513.6 493.7,507.6 491.7,497.6 483.8,491.6 478.8,493.6 477.8,481.6 477.8,469.7 479.8,463.7 489.7,463.7 499.7,465.7 511.7,466.7 523.7,464.7 531.6,469.7 539.6,475.7 543.6,473.7 544.0,461.7 542.6,449.7 539.6,437.7 531.6,431.8 523.7,435.7 515.7,437.7 511.7,433.8 515.7,425.8 519.7,419.8 517.7,414.2 515.7,409.8 519.7,403.8 527.7,401.8 531.6,403.8 538.6,401.4 547.6,398.8 558.6,395.8 553.6,388.9 554.6,381.9 558.6,374.9 561.6,366.9 566.6,369.5 573.6,374.3 587.5,367.9 598.5,359.9" fill="#c41e1a" stroke="#1a1410" stroke-width="1.2"/>
<polygon points="652.4,336.0 655.4,333.0 659.4,333.6 661.8,338.0 660.4,343.0 657.4,344.9 654.4,342.0" fill="#c41e1a" stroke="#1a1410" stroke-width="1.2"/>
<polygon points="523.7,374.3 530.1,357.5 537.6,345.5 545.2,336.0 552.6,329.0 557.6,336.4 564.6,340.4 571.6,338.0 578.5,341.2 586.5,340.0 592.5,342.0 593.9,346.3 599.5,345.5 598.5,359.9 587.5,367.9 573.6,374.3 566.6,369.5 561.6,366.9 558.6,374.9 554.6,381.9 553.6,388.9 558.6,395.8 547.6,398.8 538.6,401.4 531.6,403.8 527.7,398.8 524.1,388.9 522.7,380.9" fill="#f47a55" stroke="#1a1410" stroke-width="1.2"/>
<polygon points="491.7,387.9 498.1,381.9 505.3,382.3 511.7,379.9 516.1,378.9 520.7,381.9 522.7,387.9 524.7,393.8 527.7,398.8 525.7,401.8 519.7,403.8 515.7,409.8 517.7,414.2 513.7,415.8 509.7,412.8 503.7,409.8 497.7,408.2 491.7,405.8 490.1,397.8" fill="#fdefdd" stroke="#1a1410" stroke-width="1.2"/>
<polygon points="642.3,398.7 647.3,390.0 654.7,383.7 661.6,381.5 667.2,386.2 672.2,394.9 677.2,395.6 683.4,390.0 692.1,394.9 702.7,406.2 692.1,412.4 689.0,417.4 689.6,432.3 684.6,438.5 674.7,449.8 665.9,457.2 661.0,467.2 657.2,477.2 647.3,492.1 639.8,504.6 637.3,509.5 632.3,505.8 626.1,499.6 629.8,492.1 639.8,479.6 651.0,464.7 652.9,457.8 647.3,457.2 644.8,454.7 641.7,456.0 639.8,467.2 632.3,464.7 621.1,463.5 614.9,464.7 608.6,462.2 602.4,465.9 602.4,462.2 608.6,459.7 614.9,458.5 617.4,449.8 619.9,442.3 627.3,436.0 631.1,432.3 623.6,430.4 614.9,429.8 609.9,427.3 609.9,422.3 616.1,418.6 627.3,416.7 637.3,416.7 646.0,416.1 650.4,414.9 651.0,407.4 647.3,403.0" fill="#fdefdd" stroke="#1a1410" stroke-width="1.2"/>
<polygon points="752.9,459.7 759.9,455.7 768.9,454.7 772.8,453.7 780.8,455.7 788.8,459.7 794.8,461.7 796.8,453.7 800.8,443.7 806.8,437.7 812.8,436.7 818.7,439.7 826.7,440.7 829.7,446.7 824.7,451.7 823.7,459.7 828.7,465.7 829.7,473.7 822.7,479.7 816.7,483.6 811.8,487.6 804.8,484.6 792.8,483.6 782.8,482.6 776.8,485.6 768.9,489.6 764.9,487.6 760.9,479.7 756.9,467.7" fill="#fdefdd" stroke="#1a1410" stroke-width="1.2"/>
<polygon points="766.9,491.6 776.8,485.6 782.8,482.6 792.8,483.6 804.8,484.6 811.8,487.6 815.8,493.6 818.7,499.6 820.7,504.6 814.8,506.6 808.8,509.6 802.8,515.6 796.8,521.6 788.8,525.6 784.8,523.6 776.8,519.6 766.9,513.6 764.9,505.6 763.9,497.6" fill="#fddfbe" stroke="#1a1410" stroke-width="1.2"/>
<polygon points="788.8,525.6 796.8,521.6 802.8,515.6 808.8,509.6 814.8,506.6 820.7,504.6 824.7,509.6 828.7,515.6 830.7,521.6 824.7,525.6 818.7,531.5 812.8,535.5 806.8,537.5 802.8,541.5 800.8,547.5 796.8,551.5 792.8,553.5 790.8,545.5 790.8,533.5" fill="#fdefdd" stroke="#1a1410" stroke-width="1.2"/>
<polygon points="703.3,407.8 715.0,421.8 726.9,437.7 738.9,449.7 750.9,459.7 756.9,467.7 760.9,479.7 763.9,497.6 764.9,505.6 766.9,513.6 776.8,519.6 784.8,523.6 788.8,525.6 790.8,533.5 790.8,545.5 792.8,553.5 786.8,561.5 778.8,567.5 772.8,578.0 770.9,578.0 768.9,588.0 766.9,596.0 754.9,603.9 742.9,609.9 732.9,613.9 715.0,613.9 715.0,611.9 714.8,612.2 707.0,613.7 702.3,609.1 700.7,604.4 691.4,605.9 682.0,602.8 674.2,598.2 668.0,593.5 669.6,587.3 674.2,581.0 678.9,574.8 677.4,571.7 671.1,570.1 661.8,567.0 657.1,562.3 654.0,556.1 649.3,554.5 643.1,556.1 644.6,551.4 643.1,545.2 632.2,546.7 625.9,543.6 627.5,539.0 629.1,531.2 635.3,523.4 632.2,509.3 637.3,509.5 639.8,504.6 647.3,492.1 657.2,477.2 661.0,467.2 665.9,457.2 674.7,449.8 684.6,438.5 689.6,432.3 689.6,417.4 692.1,412.4 702.7,406.2" fill="#dc3e31" stroke="#1a1410" stroke-width="1.2"/>
<polygon points="535.6,525.6 543.6,519.6 547.6,515.6 553.6,511.6 557.6,505.6 563.6,500.6 573.6,502.6 579.5,506.6 587.5,505.6 594.9,512.0 593.7,518.3 590.0,527.0 592.5,529.5 598.7,527.0 604.9,523.2 612.4,518.3 617.4,512.0 621.1,505.8 626.1,499.6 632.3,505.8 637.3,509.5 632.2,509.3 635.3,523.4 629.1,531.2 627.5,539.0 625.9,543.6 632.2,546.7 643.1,545.2 644.6,551.4 643.1,556.1 638.4,562.3 635.3,573.2 629.1,574.8 625.9,581.0 622.8,588.8 613.5,584.1 607.3,578.7 601.0,579.5 593.2,582.6 585.4,586.5 585.5,588.0 587.5,598.0 589.5,605.9 585.3,609.3 579.3,602.7 575.4,599.0 577.1,591.8 563.0,596.8 562.6,593.0 561.6,588.8 556.5,589.9 551.5,590.9 546.4,589.9 541.4,590.9 535.3,590.9 535.6,593.5 537.1,577.9 538.7,562.3 538.7,553.0 541.8,543.6 540.3,535.8 535.6,528.0" fill="#f47a55" stroke="#1a1410" stroke-width="1.2"/>
<polygon points="476.6,642.5 480.6,629.3 484.7,619.2 488.7,609.1 491.8,601.0 493.8,592.9 494.8,587.8 500.9,585.8 504.9,586.8 508.0,590.9 510.0,596.9 515.0,598.0 521.1,599.0 527.2,598.0 533.3,596.9 535.3,590.9 541.4,590.9 546.4,589.9 551.5,590.9 556.5,589.9 561.6,588.8 562.6,592.9 562.6,599.0 563.6,605.0 564.6,611.1 563.6,617.2 561.6,621.2 556.5,624.3 551.5,627.3 547.4,629.3 545.4,634.4 476.6,642.7" fill="#fdcb96" stroke="#1a1410" stroke-width="1.2"/>
<polygon points="392.0,651.8 397.9,637.9 403.9,629.9 411.9,625.9 421.9,619.9 431.9,617.9 446.8,616.9 461.8,629.9 475.8,642.9 491.7,653.8 507.7,664.8 497.7,677.8 487.7,691.7 480.8,701.7 480.8,709.7 471.8,709.7 463.8,711.7 455.8,715.7 447.8,721.7 440.8,725.7 431.9,725.7 421.9,729.7 417.9,725.7 421.9,717.7 423.9,707.7 417.9,699.7 411.9,695.7 403.9,697.7 399.9,689.8 395.9,681.8 395.9,669.8 392.0,661.8" fill="#f47a55" stroke="#1a1410" stroke-width="1.2"/>
<polygon points="475.8,642.9 545.4,634.3 547.4,629.3 551.6,627.3 556.6,624.3 561.6,621.1 564.6,611.1 563.6,604.9 562.6,599.0 563.0,596.8 577.1,591.8 575.4,599.0 579.3,602.7 585.3,609.3 586.3,613.5 569.2,617.9 564.4,627.9 566.2,635.5 569.2,640.1 571.6,645.9 567.6,653.8 561.6,657.8 559.6,661.8 563.6,667.8 567.6,675.8 566.6,685.8 565.6,693.7 563.6,701.7 561.6,707.7 557.6,709.7 551.6,707.7 541.6,705.7 535.6,699.7 527.7,697.7 517.7,697.7 507.7,693.7 503.7,689.8 503.7,677.8 507.7,664.8" fill="#fb9562" stroke="#1a1410" stroke-width="1.2"/>
<polygon points="586.3,613.5 587.5,613.9 589.5,623.9 591.5,629.9 601.5,637.9 603.5,643.9 599.5,651.8 593.5,657.8 591.5,667.8 593.5,677.8 591.5,689.8 583.5,693.7 579.5,695.7 575.6,701.7 571.6,705.7 563.6,709.7 561.6,707.7 563.6,701.7 565.6,693.7 566.6,685.8 567.6,675.8 563.6,667.8 559.6,661.8 561.6,657.8 567.6,653.8 571.6,645.9 569.2,640.1 566.2,635.5 564.4,627.9 569.2,617.9" fill="#e85b45" stroke="#1a1410" stroke-width="1.2"/>
<polygon points="480.8,701.7 487.7,691.7 497.7,677.8 507.7,664.8 503.7,677.8 503.7,689.8 507.7,693.7 517.7,697.7 527.7,697.7 533.6,705.7 531.6,713.7 523.7,715.7 521.7,725.7 521.7,737.6 515.7,739.6 507.7,745.6 501.7,753.6 495.7,749.6 489.7,749.6 481.8,747.6 473.8,743.6 467.8,737.6 467.8,727.7 471.8,717.7 471.8,709.7 480.8,709.7" fill="#fdcb96" stroke="#1a1410" stroke-width="1.2"/>
<polygon points="585.4,586.5 593.2,582.6 601.0,579.5 607.3,578.7 613.5,584.1 619.7,587.3 622.8,588.8 625.9,581.0 629.1,574.8 635.3,573.2 638.4,562.3 643.1,556.1 649.3,554.5 654.0,556.1 657.1,562.3 661.8,567.0 671.1,570.1 677.4,571.7 678.9,574.8 674.2,581.0 669.6,587.3 668.0,593.5 674.2,598.2 682.0,602.8 691.4,605.9 700.7,604.4 702.3,609.1 707.0,613.7 714.8,612.2 716.3,618.4 714.8,627.8 713.2,635.6 714.8,643.3 716.3,649.6 711.3,653.8 709.3,657.8 701.3,665.8 695.3,677.8 691.3,685.8 683.3,689.8 681.3,695.7 675.3,699.7 667.3,697.7 659.4,691.7 657.4,693.7 651.4,701.7 643.4,709.7 647.4,721.7 645.4,729.7 640.0,738.4 631.2,735.7 625.8,734.1 617.1,733.1 614.9,751.0 604.9,750.6 603.9,744.0 594.9,737.4 597.1,725.3 588.3,726.9 581.7,717.7 566.4,728.1 553.2,721.5 552.0,738.4 547.0,743.0 539.6,741.6 531.6,737.6 521.7,737.6 521.7,725.7 523.7,715.7 529.7,707.7 527.7,699.7 531.6,696.7 543.6,697.7 551.6,701.7 555.6,707.7 563.6,709.7 571.6,705.7 575.6,701.7 579.5,695.7 583.5,693.7 591.5,689.8 593.5,677.8 591.5,667.8 593.5,657.8 599.5,651.8 603.5,643.9 601.5,637.9 591.5,629.9 589.5,623.9 587.5,613.9 591.5,605.9 587.5,598.0 585.5,588.0" fill="#b30205" stroke="#1a1410" stroke-width="1.2"/>
<polygon points="643.4,709.7 651.4,701.7 657.4,693.7 659.4,691.7 667.3,697.7 675.3,699.7 681.3,701.7 678.9,709.9 673.9,714.9 669.0,719.8 666.5,726.4 665.7,733.0 665.7,741.3 662.4,749.5 659.1,751.2 652.5,749.5 645.9,746.2 639.3,742.9 632.6,739.6 626.0,735.5 616.1,734.7 624.4,733.0 631.0,731.4 637.6,723.1 642.6,716.5 645.9,708.3" fill="#e85b45" stroke="#1a1410" stroke-width="1.2"/>
<polygon points="681.3,695.7 683.3,689.8 691.3,685.8 695.3,689.8 707.3,693.7 715.2,697.7 717.2,705.7 711.3,713.7 709.3,721.7 703.3,727.7 695.3,725.7 683.3,721.7 675.3,717.7 679.3,709.7 681.3,701.7" fill="#e85b45" stroke="#1a1410" stroke-width="1.2"/>
<polygon points="665.7,721.5 675.6,719.8 685.5,721.5 695.4,724.8 705.3,729.7 708.6,736.3 705.3,741.3 700.3,742.9 693.7,747.9 688.8,752.8 685.5,756.1 680.5,762.7 680.5,769.3 675.6,775.9 672.3,782.6 667.3,785.9 665.7,779.3 667.3,772.6 665.7,764.4 662.4,757.8 660.7,752.8 662.4,749.5 665.7,741.3 665.7,733.0" fill="#fdefdd" stroke="#1a1410" stroke-width="1.2"/>
<polygon points="716.2,649.6 719.0,651.8 723.0,657.8 732.9,661.8 742.9,659.8 750.9,655.8 754.9,649.8 762.9,646.8 772.8,645.9 782.8,645.9 782.8,653.8 788.8,657.8 792.8,663.8 794.8,669.8 790.8,675.8 794.8,685.8 792.8,697.7 788.8,707.7 790.8,715.7 782.8,717.7 776.8,723.7 770.9,731.7 762.9,735.7 750.9,737.6 738.9,739.6 730.9,741.6 723.0,737.6 715.0,733.7 707.0,731.7 703.0,727.7 703.3,727.7 709.3,721.7 711.3,713.7 717.2,705.7 715.2,697.7 707.3,693.7 695.3,689.8 691.3,685.8 693.3,677.8 699.3,667.8 705.3,657.8 711.3,653.8" fill="#e85b45" stroke="#1a1410" stroke-width="1.2"/>
<polygon points="715.0,613.9 732.9,613.9 742.9,609.9 754.9,603.9 766.9,596.0 776.8,598.0 782.8,603.9 786.8,611.9 788.8,621.9 790.8,631.9 790.8,639.9 782.8,645.9 772.8,645.9 762.9,646.8 754.9,649.8 750.9,655.8 742.9,659.8 732.9,661.8 723.0,657.8 719.0,651.8 716.2,649.6 715.0,643.9 713.0,633.9" fill="#fcb07a" stroke="#1a1410" stroke-width="1.2"/>
<polygon points="772.8,578.0 778.8,567.5 786.8,561.5 792.8,553.5 798.8,557.5 802.8,561.5 808.8,567.5 814.8,569.5 822.7,565.5 830.7,561.5 834.7,557.5 842.7,565.5 850.7,573.4 852.7,578.0 852.7,588.0 854.7,598.0 854.7,609.9 850.7,617.9 842.7,623.9 832.7,631.9 822.7,633.9 814.8,631.9 806.8,635.9 798.8,637.9 790.8,639.9 790.8,631.9 788.8,621.9 786.8,611.9 782.8,603.9 776.8,598.0 768.9,588.0 770.9,578.0" fill="#fcb07a" stroke="#1a1410" stroke-width="1.2"/>
<polygon points="782.8,645.9 790.8,639.9 798.8,637.9 806.8,635.9 814.8,631.9 822.7,633.9 832.7,631.9 842.7,623.9 850.7,617.9 854.7,609.9 862.6,609.9 868.6,611.9 870.6,621.9 868.6,633.9 866.6,643.9 860.7,649.8 852.7,653.8 850.7,657.8 856.7,663.8 866.6,665.8 872.6,669.8 876.6,677.8 878.6,685.8 882.6,691.7 880.6,701.7 878.6,713.7 870.6,711.7 858.7,711.7 846.7,711.7 836.7,713.7 832.7,709.7 830.7,701.7 826.7,697.7 818.7,699.7 814.8,701.7 812.8,693.7 806.8,689.8 800.8,685.8 794.8,685.8 790.8,675.8 794.8,669.8 792.8,663.8 788.8,657.8 782.8,653.8" fill="#fdefdd" stroke="#1a1410" stroke-width="1.2"/>
<polygon points="794.8,685.8 800.8,685.8 806.8,689.8 812.8,693.7 814.8,701.7 818.7,699.7 826.7,697.7 830.7,701.7 832.7,709.7 836.7,713.7 832.7,721.7 830.7,729.7 828.7,735.7 820.7,735.7 816.7,733.7 812.8,729.7 806.8,727.7 798.8,727.7 794.8,723.7 790.8,717.7 788.8,707.7 792.8,697.7" fill="#fdefdd" stroke="#1a1410" stroke-width="1.2"/>
<polygon points="730.9,741.6 738.9,739.6 750.9,737.6 762.9,735.7 770.9,731.7 776.8,723.7 782.8,717.7 790.8,715.7 794.8,723.7 798.8,729.7 796.8,737.6 792.8,745.6 790.8,751.6 786.8,757.6 778.8,765.6 770.9,769.6 762.9,773.6 754.9,775.6 746.9,775.6 738.9,775.6 734.9,765.6 732.9,753.6" fill="#fddfbe" stroke="#1a1410" stroke-width="1.2"/>
<polygon points="738.9,775.6 746.9,775.6 754.9,775.6 762.9,773.6 770.9,769.6 778.8,765.6 786.8,757.6 790.8,751.6 792.8,745.6 796.8,737.6 798.8,729.7 806.8,727.7 812.8,729.7 816.7,733.7 820.7,735.7 828.7,735.7 830.7,729.7 832.7,721.7 836.7,713.7 846.7,711.7 858.7,711.7 870.6,711.7 878.6,713.7 880.6,721.7 884.6,729.7 884.6,737.6 880.6,743.6 878.6,749.6 882.6,757.6 884.6,765.6 882.6,773.6 884.6,779.6 888.6,785.5 894.6,789.5 902.6,793.5 906.6,799.5 902.6,805.5 894.6,807.5 886.6,805.5 878.6,805.5 870.6,805.5 862.6,801.5 854.7,799.5 844.7,801.5 838.7,805.5 834.7,801.5 830.7,803.5 822.7,805.5 814.8,807.5 806.8,809.5 798.8,811.5 788.8,815.5 782.8,817.5 772.8,813.5 762.9,809.5 754.9,803.5 748.9,797.5 744.9,791.5 742.9,783.5" fill="#e85b45" stroke="#1a1410" stroke-width="1.2"/>
<polygon points="692.1,785.9 697.0,782.6 700.3,775.9 703.6,769.3 708.6,762.7 713.5,759.4 718.5,766.0 728.4,764.4 735.0,762.7 738.3,772.6 741.6,780.9 744.9,789.2 748.2,797.4 749.9,802.4 744.9,807.3 738.3,810.6 731.7,813.9 725.1,817.2 721.8,818.9 718.5,813.9 716.9,807.3 715.2,802.4 708.6,800.7 702.0,802.4 695.4,807.3 692.1,799.1" fill="#fdefdd" stroke="#1a1410" stroke-width="1.2"/>
<polygon points="781.2,815.6 791.2,815.6 801.1,812.3 807.7,810.6 817.6,807.3 827.5,804.0 830.8,802.4 834.1,812.3 837.4,818.9 840.7,828.8 844.0,835.4 837.4,837.0 830.8,840.3 827.5,845.3 824.2,851.9 817.6,855.2 807.7,858.5 801.1,860.2 794.5,858.5 787.8,858.5 781.2,858.5 777.9,853.5 779.6,845.3 781.2,837.0 781.2,825.5" fill="#fddfbe" stroke="#1a1410" stroke-width="1.2"/>
<polygon points="616.1,799.1 619.4,794.1 626.0,792.5 632.6,789.2 639.3,780.9 644.2,777.6 652.5,777.6 659.1,779.3 665.7,779.3 667.3,785.9 669.0,785.9 667.3,792.5 665.7,799.1 662.4,805.7 659.1,812.3 659.1,818.9 657.4,825.5 655.8,832.1 650.8,838.7 649.2,845.3 642.6,842.0 637.6,837.0 632.6,830.4 626.0,828.8 619.4,825.5 616.1,818.9 616.1,812.3" fill="#fddfbe" stroke="#1a1410" stroke-width="1.2"/>
<polygon points="617.0,733.0 626.0,735.5 632.6,739.6 639.3,742.9 645.9,746.2 652.5,749.5 659.1,751.2 660.7,752.8 662.4,757.8 665.7,764.4 667.3,772.6 665.7,779.3 659.1,779.3 652.5,777.6 644.2,777.6 639.3,780.9 632.6,789.2 626.0,792.5 619.4,794.1 616.1,799.1 617.8,789.2 624.4,782.6 629.5,776.4 633.5,770.0 630.2,762.7 624.7,757.1 614.8,751.2" fill="#fb9562" stroke="#1a1410" stroke-width="1.2"/>
<polygon points="672.3,782.6 675.6,775.9 680.5,769.3 685.5,775.9 688.8,782.6 692.1,785.9 692.1,799.1 695.4,807.3 702.0,802.4 708.6,800.7 715.2,802.4 716.9,807.3 718.5,813.9 721.8,818.9 723.5,825.5 720.2,832.1 716.9,837.0 710.2,840.3 703.6,845.3 697.0,851.9 692.1,855.2 685.5,858.5 678.9,860.2 672.3,861.8 667.3,865.1 662.4,863.5 660.7,855.2 659.1,848.6 654.1,846.9 649.2,845.3 650.8,838.7 655.8,832.1 657.4,825.5 659.1,818.9 659.1,812.3 662.4,805.7 665.7,799.1 667.3,792.5 669.0,785.9" fill="#f47a55" stroke="#1a1410" stroke-width="1.2"/>
<polygon points="593.0,822.2 602.9,818.9 609.5,818.9 616.1,818.9 619.4,825.5 626.0,828.8 632.6,830.4 637.6,837.0 642.6,842.0 639.3,848.6 632.6,850.2 626.0,851.9 617.8,851.9 609.5,850.2 599.6,848.6 593.0,845.3 591.4,835.4" fill="#fdcb96" stroke="#1a1410" stroke-width="1.2"/>
<polygon points="532.4,788.7 535.4,782.5 538.5,776.3 543.1,771.7 549.3,767.1 557.0,765.6 563.2,760.9 557.0,754.8 553.9,748.6 552.1,738.6 553.2,721.5 566.4,727.9 581.8,717.6 588.5,726.9 597.3,725.3 595.0,737.3 603.7,744.0 605.0,750.6 614.8,751.1 624.7,757.2 630.3,762.8 633.5,770.0 629.5,776.3 624.9,782.5 627.9,788.7 624.9,794.8 618.7,797.9 617.2,804.1 618.7,811.8 617.2,818.0 612.5,822.6 606.4,821.1 600.2,819.5 594.0,822.6 587.9,825.7 584.8,819.5 587.9,813.3 584.8,807.2 578.6,807.2 569.4,804.1 560.1,801.0 550.9,801.0 541.6,797.9 535.4,794.8" fill="#fb9562" stroke="#1a1410" stroke-width="1.2"/>
<polygon points="516.9,790.2 520.0,788.7 526.2,788.7 532.4,788.7 535.4,794.8 541.6,797.9 550.9,801.0 560.1,801.0 569.4,804.1 578.6,807.2 584.8,807.2 587.9,813.3 584.8,819.5 587.9,825.7 594.0,825.7 594.0,834.9 590.9,841.1 589.4,850.4 587.9,859.6 585.5,867.9 583.1,873.5 579.7,884.9 571.6,893.9 563.6,891.9 559.6,883.9 555.6,875.9 547.6,873.9 541.6,875.9 535.6,881.9 531.6,883.9 531.6,875.9 521.7,873.9 511.7,871.9 501.7,873.9 492.1,878.1 492.3,878.1 490.7,871.9 493.8,862.7 495.3,856.5 501.5,853.4 510.8,851.9 515.4,850.4 520.0,844.2 521.6,838.0 518.5,831.9 513.9,825.7 512.3,816.4 513.9,807.2 515.4,797.9" fill="#fdefdd" stroke="#1a1410" stroke-width="1.2"/>
<polygon points="467.8,737.6 473.8,743.6 481.8,747.6 489.7,749.6 495.7,749.6 501.7,753.6 507.7,745.6 515.7,739.6 521.7,737.6 531.6,737.6 539.6,741.6 547.0,743.0 552.0,738.6 553.9,748.6 557.0,754.8 563.2,760.9 557.0,765.6 549.3,767.1 543.1,771.7 538.5,776.3 535.4,782.5 532.4,788.7 526.2,788.7 520.0,788.7 516.9,790.2 510.8,788.7 504.6,788.7 498.4,785.6 492.3,784.1 483.0,784.1 473.8,784.1 464.5,785.6 458.3,785.6 456.8,784.1 458.3,776.3 456.8,767.1 458.3,757.8 459.9,748.6 461.4,739.3" fill="#fdefdd" stroke="#1a1410" stroke-width="1.2"/>
<polygon points="418.3,728.5 426.0,727.0 433.7,725.5 442.9,725.5 447.6,727.0 455.3,734.7 461.4,739.3 459.9,748.6 458.3,757.8 456.8,767.1 458.3,776.3 456.8,784.1 452.2,788.7 444.5,791.8 436.8,797.9 430.6,804.1 422.9,804.1 415.2,801.0 409.0,801.0 402.8,804.1 396.7,805.6 398.2,794.8 401.3,782.5 404.4,773.3 405.9,760.9 409.0,751.7 412.1,740.9 415.2,733.2" fill="#f47a55" stroke="#1a1410" stroke-width="1.2"/>
<polygon points="430.6,804.1 435.2,810.3 438.3,818.0 442.9,822.6 436.8,825.7 427.5,827.2 418.3,828.8 410.5,831.9 402.8,834.2 396.7,832.6 395.1,829.5 402.8,827.2 409.0,824.1 412.1,818.0 418.3,813.3 426.0,808.7" fill="#f47a55" stroke="#1a1410" stroke-width="1.2"/>
<polygon points="374.0,848.0 382.0,842.0 392.0,838.0 401.9,836.0 407.9,840.0 417.9,846.0 431.9,850.0 435.9,857.9 441.8,865.9 445.8,873.9 449.8,879.9 451.8,887.9 453.8,891.9 447.8,889.9 437.9,887.9 429.9,889.9 423.9,893.9 417.9,899.9 409.9,899.9 401.9,895.9 395.9,891.9 390.0,885.9 386.0,875.9 382.0,865.9 378.0,856.0" fill="#fdefdd" stroke="#1a1410" stroke-width="1.2"/>
<polygon points="451.8,895.9 459.8,897.9 463.8,899.9 467.8,893.9 469.8,887.9 473.8,881.9 483.8,879.9 491.7,875.9 501.7,873.9 511.7,871.9 521.7,873.9 531.6,875.9 531.6,883.9 535.6,881.9 541.6,875.9 547.6,873.9 555.6,875.9 559.6,883.9 563.6,891.9 571.6,893.9 573.6,901.9 575.6,909.8 579.5,917.8 581.5,923.8 575.6,927.8 567.6,927.8 561.6,925.8 555.6,927.8 551.6,933.8 549.6,941.8 543.6,945.8 535.6,949.7 527.7,951.7 523.7,953.7 527.7,961.7 529.7,969.7 531.6,977.7 535.6,981.7 541.6,985.7 545.6,989.7 547.6,993.6 545.6,997.6 539.6,995.6 531.6,989.7 523.7,981.7 517.7,975.7 511.7,969.7 503.7,965.7 495.7,971.7 491.7,975.7 487.7,977.7 485.7,981.7 481.8,979.7 481.8,969.7 479.8,957.7 477.8,947.7 471.8,945.8 465.8,947.7 461.8,953.7 459.8,961.7 461.8,969.7 463.8,977.7 455.8,979.7 445.8,981.7 439.9,983.7 433.9,979.7 427.9,973.7 431.9,967.7 435.9,961.7 437.9,951.7 435.9,941.8 431.9,933.8 425.9,929.8 419.9,925.8 415.9,921.8 419.9,917.8 429.9,919.8 437.9,921.8 445.8,919.8 451.8,915.8 453.8,907.8" fill="#dc3e31" stroke="#1a1410" stroke-width="1.2"/>
<polygon points="413.9,919.8 417.9,909.8 421.9,899.9 425.9,893.9 431.9,889.9 437.9,887.9 447.8,889.9 451.8,895.9 453.8,907.8 451.8,915.8 445.8,919.8 437.9,921.8 429.9,919.8 419.9,917.8" fill="#fcb07a" stroke="#1a1410" stroke-width="1.2"/>
<polygon points="388.0,937.8 394.0,931.8 401.9,927.8 409.9,923.8 415.9,921.8 419.9,925.8 425.9,929.8 431.9,933.8 435.9,941.8 437.9,951.7 435.9,961.7 431.9,967.7 427.9,973.7 419.9,971.7 411.9,969.7 403.9,963.7 397.9,957.7 392.0,949.7" fill="#fb9562" stroke="#1a1410" stroke-width="1.2"/>
<polygon points="461.8,953.7 465.8,947.7 471.8,945.8 477.8,947.7 479.8,957.7 481.8,969.7 481.8,979.7 475.8,979.7 469.8,977.7 463.8,977.7 461.8,969.7 459.8,961.7" fill="#fdcb96" stroke="#1a1410" stroke-width="1.2"/>
<polygon points="573.6,901.9 571.6,893.9 579.7,884.9 586.3,889.9 592.9,888.3 597.9,881.7 602.9,874.9 607.9,869.9 614.5,863.3 622.6,858.5 629.2,855.2 631.0,850.2 639.2,848.6 649.2,845.4 659.2,848.6 662.4,863.3 667.3,865.1 675.5,861.7 679.3,867.9 677.3,875.9 675.3,885.9 673.3,897.9 671.3,905.8 673.3,913.8 675.3,921.8 679.3,927.8 681.3,933.8 677.3,939.8 671.3,945.8 664.8,950.9 650.4,956.3 641.6,960.7 633.8,965.1 631.6,953.1 626.2,955.3 625.0,965.1 615.3,967.7 611.5,959.7 613.5,953.7 611.5,945.8 603.5,935.8 597.5,927.8 591.5,919.8 585.5,917.8 581.5,923.8 579.5,917.8 575.6,909.8" fill="#fdcb96" stroke="#1a1410" stroke-width="1.2"/>
<polygon points="523.7,953.7 527.7,951.7 535.6,949.7 543.6,945.8 549.6,941.8 551.6,933.8 555.6,927.8 561.6,925.8 567.6,927.8 575.6,927.8 581.5,923.8 585.5,917.8 591.5,919.8 597.5,927.8 603.5,935.8 611.5,945.8 613.5,953.7 611.5,959.7 605.5,957.7 597.5,955.7 591.5,957.7 583.5,957.7 571.6,959.7 561.6,961.7 551.6,965.7 545.6,969.7 543.6,977.7 541.6,981.7 535.6,981.7 531.6,977.7 529.7,969.7 527.7,961.7" fill="#fcb07a" stroke="#1a1410" stroke-width="1.2"/>
<polygon points="541.6,981.7 543.6,977.7 545.6,969.7 551.6,965.7 561.6,961.7 571.6,959.7 583.5,957.7 591.5,957.7 597.5,955.7 605.5,957.7 611.5,959.7 615.3,967.7 611.5,971.7 603.5,973.7 595.5,977.7 593.5,985.7 593.5,993.6 587.5,993.6 579.5,991.7 571.6,991.7 563.6,993.6 555.6,997.6 547.6,999.6 545.6,997.6 547.6,993.6 545.6,989.7" fill="#fdefdd" stroke="#1a1410" stroke-width="1.2"/>
<polygon points="675.6,861.8 678.9,860.2 685.5,858.5 692.1,855.2 697.0,851.9 700.3,858.5 705.3,865.1 708.6,875.0 710.2,884.9 711.9,891.5 708.6,898.1 709.1,893.9 711.1,901.9 717.0,907.8 719.0,915.8 723.0,921.8 729.0,927.8 727.2,934.4 720.6,936.6 718.4,941.0 709.7,943.2 696.5,946.6 683.3,938.8 675.5,932.2 679.3,927.8 675.3,921.8 673.3,913.8 671.3,905.8 673.3,897.9 675.3,885.9 677.3,875.9 679.3,867.9 675.5,861.7" fill="#fdefdd" stroke="#1a1410" stroke-width="1.2"/>
<polygon points="697.0,851.9 703.6,845.3 710.2,840.3 716.9,837.0 720.2,832.1 725.1,838.7 731.7,843.6 736.7,848.6 741.6,853.5 746.6,861.8 743.3,868.4 741.6,875.0 738.3,880.0 735.0,883.3 728.4,884.9 721.8,881.6 715.2,883.3 711.9,888.2 710.2,884.9 708.6,875.0 705.3,865.1 700.3,858.5" fill="#fddfbe" stroke="#1a1410" stroke-width="1.2"/>
<polygon points="664.7,950.9 668.0,943.2 672.4,936.6 675.7,932.2 679.0,933.3 683.4,938.8 685.6,943.2 692.1,946.5 696.5,946.5 703.1,944.3 709.7,943.2 716.3,944.3 718.5,941.0 720.7,936.6 727.3,934.4 731.7,936.6 736.1,941.0 738.3,945.4 736.1,949.8 731.7,950.9 725.1,949.8 718.5,952.0 717.4,956.4 720.7,958.6 729.5,958.6 733.9,963.0 736.1,967.4 737.2,974.0 733.9,980.6 731.7,985.0 729.5,991.6 727.3,993.8 722.9,996.0 716.3,994.9 709.7,993.8 703.1,992.7 698.7,993.8 696.5,990.5 694.3,986.1 690.0,982.8 685.6,978.4 682.3,974.0 676.8,969.6 673.5,965.2 668.0,960.8" fill="#fdcb96" stroke="#1a1410" stroke-width="1.2"/>
<polygon points="615.2,980.6 626.2,980.6 628.4,987.2 633.9,992.7 639.4,997.1 643.8,998.2 644.9,991.6 648.2,985.0 654.8,980.6 661.4,971.8 660.3,963.0 664.7,955.3 668.0,960.8 673.5,965.2 676.8,969.6 682.3,974.0 685.6,978.4 690.0,982.8 694.3,986.1 696.5,990.5 696.5,996.0 694.3,1000.4 690.0,1001.5 685.6,1004.8 681.2,1009.2 676.8,1013.6 672.4,1018.0 668.0,1021.3 663.6,1021.3 661.4,1018.0 657.0,1015.8 652.6,1013.6 648.2,1011.4 641.6,1009.2 637.2,1007.0 632.8,1002.6 628.4,998.2 621.8,1000.4 617.4,991.6" fill="#fddfbe" stroke="#1a1410" stroke-width="1.2"/>
<polygon points="709.0,893.9 715.0,885.9 726.9,881.9 738.9,877.9 750.9,879.9 760.9,881.9 768.9,877.9 778.8,871.9 786.8,867.9 794.8,863.9 802.8,867.9 806.8,875.9 814.8,879.9 822.7,877.9 830.7,873.9 834.7,869.9 836.7,863.9 840.7,869.9 842.7,877.9 846.7,883.9 850.7,887.9 850.7,893.9 846.7,897.9 840.7,901.9 838.7,907.8 836.7,913.8 832.7,919.8 830.7,929.8 832.7,937.8 830.7,945.8 828.7,955.7 822.7,961.7 820.7,965.7 826.7,969.7 830.7,977.7 826.7,985.7 822.7,991.7 814.8,993.6 806.8,995.6 798.8,997.6 794.8,1003.6 790.8,1009.6 788.8,1017.6 786.8,1023.6 782.8,1013.6 776.8,1005.6 770.9,995.6 764.9,987.7 756.9,981.7 748.9,977.7 742.9,973.7 737.1,973.9 736.1,967.3 733.9,962.9 729.5,958.5 720.8,958.5 717.4,956.3 718.6,951.9 725.2,949.7 731.7,950.7 736.1,949.7 738.3,945.4 736.1,941.0 731.7,936.6 728.9,927.8 723.0,921.8 719.0,915.8 717.0,907.8 711.0,901.9" fill="#f47a55" stroke="#1a1410" stroke-width="1.2"/>
<polygon points="593.8,1010.0 597.8,1004.0 605.8,1008.0 615.8,1014.0 619.8,1020.0 623.8,1012.0 629.8,1006.0 639.7,1010.0 649.7,1012.0 659.7,1016.0 663.7,1022.0 657.7,1027.9 655.7,1035.9 659.7,1043.9 661.7,1051.9 657.7,1057.9 653.7,1065.9 649.7,1075.8 647.7,1079.8 643.7,1087.8 639.7,1095.8 635.7,1097.8 631.8,1093.8 625.8,1091.8 617.8,1089.8 609.8,1087.8 605.8,1083.8 601.8,1079.8 595.8,1075.8 587.9,1071.8 579.9,1067.9 577.9,1061.9 585.9,1055.9 591.8,1051.9 595.8,1045.9 597.8,1037.9 595.8,1029.9 593.8,1020.0" fill="#fddfbe" stroke="#1a1410" stroke-width="1.2"/>
<polygon points="542.0,1022.0 549.9,1018.0 559.9,1016.0 571.9,1016.0 581.9,1020.0 583.9,1025.9 579.9,1029.9 571.9,1035.9 563.9,1039.9 555.9,1045.9 549.9,1043.9 543.9,1035.9 542.0,1029.9" fill="#fdefdd" stroke="#1a1410" stroke-width="1.2"/>
<polygon points="571.9,1083.8 575.9,1077.8 581.9,1073.8 589.8,1071.8 597.8,1075.8 601.8,1079.8 599.8,1087.8 595.8,1091.8 587.9,1095.8 579.9,1093.8 573.9,1089.8" fill="#fdefdd" stroke="#1a1410" stroke-width="1.2"/>
<polygon points="657.7,1027.9 663.7,1022.0 671.7,1023.9 679.6,1027.9 687.6,1033.9 699.6,1037.9 707.6,1041.9 705.6,1047.9 713.6,1051.9 717.6,1059.9 719.6,1067.9 721.6,1075.8 727.5,1083.8 727.5,1093.8 729.5,1099.8 727.5,1109.8 721.6,1119.7 717.6,1125.7 711.6,1127.7 703.6,1123.7 695.6,1119.7 691.6,1121.7 687.6,1127.7 683.6,1131.7 679.6,1135.7 673.7,1139.7 667.7,1135.7 659.7,1131.7 651.7,1129.7 647.7,1133.7 647.7,1139.7 641.7,1141.7 633.7,1141.7 627.8,1139.7 627.8,1131.7 629.8,1123.7 627.8,1115.7 629.8,1109.8 627.8,1103.8 635.7,1097.8 639.7,1095.8 643.7,1087.8 647.7,1079.8 649.7,1075.8 653.7,1065.9 657.7,1057.9 661.7,1051.9 659.7,1043.9 655.7,1035.9" fill="#fdcb96" stroke="#1a1410" stroke-width="1.2"/>
<polygon points="671.3,1022.4 676.8,1013.6 681.2,1009.2 685.6,1004.8 690.0,1001.5 694.3,1000.4 696.5,996.0 698.7,997.1 700.9,998.2 705.3,1000.4 707.5,1004.8 707.5,1011.4 706.4,1018.0 707.5,1024.6 707.5,1032.3 707.5,1038.9 704.2,1040.0 699.8,1040.0 698.7,1035.6 696.5,1033.4 690.0,1032.3 683.4,1031.2 676.8,1029.0 672.4,1026.8" fill="#fb9562" stroke="#1a1410" stroke-width="1.2"/>
<polygon points="698.7,993.8 703.1,992.7 709.7,993.8 716.3,994.9 722.9,996.0 727.3,993.8 729.5,991.6 731.7,985.0 733.9,980.6 737.2,974.0 738.9,975.7 742.9,973.7 748.9,977.7 756.9,981.7 764.9,987.7 770.9,995.6 776.8,1005.6 782.8,1013.6 786.8,1023.6 790.8,1031.6 794.8,1041.5 798.8,1049.5 804.8,1055.5 810.8,1055.5 816.7,1057.5 815.3,1055.9 813.4,1065.9 809.4,1075.8 809.4,1083.8 799.4,1085.8 789.4,1087.8 779.4,1091.8 775.4,1085.8 767.5,1081.8 759.5,1079.8 747.5,1077.8 739.5,1079.8 733.5,1083.8 729.5,1087.8 725.5,1079.8 721.6,1069.8 717.6,1059.9 713.6,1051.9 705.6,1047.9 707.6,1039.9 707.6,1027.9 707.6,1016.0 707.6,1008.0 705.6,1000.0" fill="#c41e1a" stroke="#1a1410" stroke-width="1.2"/>
<polygon points="727.5,1091.8 729.5,1087.8 733.5,1083.8 739.5,1079.8 747.5,1077.8 759.5,1079.8 767.5,1081.8 775.4,1085.8 779.4,1091.8 781.4,1099.8 787.4,1107.8 793.4,1113.7 787.4,1117.7 779.4,1121.7 771.4,1127.7 759.5,1131.7 751.5,1133.7 745.5,1129.7 741.5,1121.7 735.5,1119.7 731.5,1123.7 729.5,1131.7 727.5,1139.7 721.6,1135.7 717.6,1131.7 717.6,1125.7 721.6,1119.7 727.5,1109.8 729.5,1099.8" fill="#fddfbe" stroke="#1a1410" stroke-width="1.2"/>
<polygon points="790.8,1009.6 798.8,1013.6 802.8,1011.6 808.8,1017.6 814.8,1025.6 816.7,1033.6 810.8,1037.6 806.8,1043.5 802.8,1047.5 798.8,1049.5 794.8,1041.5 790.8,1031.6 788.8,1023.6" fill="#fdefdd" stroke="#1a1410" stroke-width="1.2"/>
<polygon points="798.8,1049.5 802.8,1047.5 810.8,1037.6 818.7,1029.6 826.7,1029.6 834.7,1033.6 838.7,1039.5 842.7,1045.5 848.7,1049.5 854.7,1055.5 842.7,1061.5 832.7,1069.5 822.7,1071.5 816.7,1069.5 816.7,1057.5 810.8,1055.5 804.8,1055.5" fill="#fddfbe" stroke="#1a1410" stroke-width="1.2"/>
<polygon points="912.5,901.9 906.6,891.9 906.6,879.9 910.5,865.9 918.5,856.9 922.5,861.9 922.5,871.9 932.5,877.9 946.5,879.9 958.4,881.9 972.4,882.9 970.4,865.9 968.4,857.9 976.4,850.0 986.4,836.0 994.4,846.0 1002.3,857.9 1008.3,869.9 1018.3,871.9 1030.3,867.9 1042.3,861.9 1048.2,852.0 1054.2,857.9 1058.2,871.9 1062.2,887.9 1060.2,897.9 1056.2,903.8 1052.2,911.8 1050.2,921.8 1042.3,919.8 1034.3,917.8 1030.3,921.8 1026.3,933.8 1024.3,943.8 1022.3,953.7 1018.3,963.7 1018.3,973.7 1016.3,983.7 1010.3,991.7 1008.3,989.7 1002.3,977.7 996.4,969.7 988.4,959.7 982.4,951.7 976.4,945.8 968.4,941.8 966.4,933.8 966.4,925.8 962.4,919.8 956.4,913.8 952.5,913.8 950.5,921.8 946.5,925.8 938.5,921.8 932.5,913.8 924.5,907.8 918.5,903.8" fill="#fdcb96" stroke="#1a1410" stroke-width="1.2"/>
<polygon points="912.5,903.8 918.5,903.8 924.5,907.8 932.5,913.8 938.5,921.8 946.5,925.8 950.5,921.8 952.5,913.8 956.4,913.8 962.4,919.8 966.4,925.8 966.4,933.8 968.4,941.8 976.4,945.8 982.4,951.7 988.4,959.7 996.4,969.7 1002.3,977.7 1008.3,989.7 1000.3,997.6 992.4,991.7 986.4,995.6 982.4,1001.6 976.4,1003.6 970.4,1009.6 962.4,1013.6 954.4,1013.6 946.5,1007.6 938.5,1005.6 930.5,1003.6 926.5,993.6 918.5,985.7 910.5,977.7 904.6,969.7 902.6,957.7 904.6,945.8 904.6,933.8 904.6,921.8 906.6,915.8 910.5,909.8" fill="#fcb07a" stroke="#1a1410" stroke-width="1.2"/>
</g>
<g font-family="Liberation Sans" font-size="9.8" fill="#111" stroke="#111" stroke-width="0.15">
<text x="613.5" y="341.4" textLength="86.8" lengthAdjust="spacingAndGlyphs">CITTA&#39; DI CASTELLO</text>
<text x="525.7" y="368.3" textLength="62.8" lengthAdjust="spacingAndGlyphs">SAN GIUSTINO</text>
<text x="526.7" y="380.9" textLength="59.8" lengthAdjust="spacingAndGlyphs">POSITIVI =16</text>
<text x="488.7" y="399.4" textLength="37.0" lengthAdjust="spacingAndGlyphs">CITERNA</text>
<text x="481.4" y="411.8" textLength="53.8" lengthAdjust="spacingAndGlyphs">POSITIVI =2</text>
<text x="522.7" y="446.7" textLength="86.8" lengthAdjust="spacingAndGlyphs">CITTA&#39; DI CASTELLO</text>
<text x="536.6" y="459.3" textLength="58.9" lengthAdjust="spacingAndGlyphs">POSITIVI =76</text>
<text x="622.5" y="440.7" textLength="59.8" lengthAdjust="spacingAndGlyphs">PIETRALUNGA</text>
<text x="625.4" y="453.1" textLength="52.9" lengthAdjust="spacingAndGlyphs">POSITIVI =2</text>
<text x="593.5" y="498.0" textLength="42.9" lengthAdjust="spacingAndGlyphs">MONTONE</text>
<text x="501.7" y="546.9" textLength="50.9" lengthAdjust="spacingAndGlyphs">UMBERTIDE</text>
<text x="559.6" y="554.9" textLength="50.9" lengthAdjust="spacingAndGlyphs">UMBERTIDE</text>
<text x="555.2" y="567.1" textLength="59.3" lengthAdjust="spacingAndGlyphs">POSITIVI =17</text>
<text x="695.7" y="527.9" textLength="33.5" lengthAdjust="spacingAndGlyphs">GUBBIO</text>
<text x="682.9" y="540.5" textLength="59.1" lengthAdjust="spacingAndGlyphs">POSITIVI =55</text>
<text x="476.1" y="581.8" textLength="84.0" lengthAdjust="spacingAndGlyphs">LISCIANO NICCONE</text>
<text x="741.9" y="470.1" textLength="106.4" lengthAdjust="spacingAndGlyphs">SCHEGGIA E PASCELUPO</text>
<text x="767.9" y="482.6" textLength="53.8" lengthAdjust="spacingAndGlyphs">POSITIVI =1</text>
<text x="759.3" y="506.0" textLength="61.8" lengthAdjust="spacingAndGlyphs">COSTACCIARO</text>
<text x="762.9" y="518.0" textLength="53.8" lengthAdjust="spacingAndGlyphs">POSITIVI =3</text>
<text x="790.8" y="529.0" textLength="33.9" lengthAdjust="spacingAndGlyphs">SIGILLO</text>
<text x="780.8" y="541.5" textLength="53.9" lengthAdjust="spacingAndGlyphs">POSITIVI =2</text>
<text x="457.8" y="617.9" textLength="128.7" lengthAdjust="spacingAndGlyphs">PASSIGNANO SUL TRASIMENO</text>
<text x="495.7" y="630.3" textLength="53.9" lengthAdjust="spacingAndGlyphs">POSITIVI =5</text>
<text x="516.7" y="662.8" textLength="40.9" lengthAdjust="spacingAndGlyphs">MAGIONE</text>
<text x="508.3" y="675.2" textLength="58.3" lengthAdjust="spacingAndGlyphs">POSITIVI =13</text>
<text x="391.0" y="674.2" textLength="104.7" lengthAdjust="spacingAndGlyphs">CASTIGLIONE DEL LAGO</text>
<text x="413.3" y="686.2" textLength="59.5" lengthAdjust="spacingAndGlyphs">POSITIVI =18</text>
<text x="613.5" y="658.8" textLength="37.9" lengthAdjust="spacingAndGlyphs">PERUGIA</text>
<text x="600.5" y="671.2" textLength="63.9" lengthAdjust="spacingAndGlyphs">POSITIVI =280</text>
<text x="477.4" y="720.7" textLength="42.3" lengthAdjust="spacingAndGlyphs">PANICALE</text>
<text x="471.8" y="732.7" textLength="52.9" lengthAdjust="spacingAndGlyphs">POSITIVI =6</text>
<text x="682.3" y="710.1" textLength="30.0" lengthAdjust="spacingAndGlyphs">BASTIA</text>
<text x="669.3" y="722.1" textLength="58.9" lengthAdjust="spacingAndGlyphs">POSITIVI =20</text>
<text x="629.4" y="736.6" textLength="57.9" lengthAdjust="spacingAndGlyphs">POSITIVI =21</text>
<text x="653.4" y="760.0" textLength="53.9" lengthAdjust="spacingAndGlyphs">POSITIVI =2</text>
<text x="487.3" y="767.6" textLength="38.4" lengthAdjust="spacingAndGlyphs">PIEGARO</text>
<text x="479.8" y="780.0" textLength="52.8" lengthAdjust="spacingAndGlyphs">POSITIVI =1</text>
<text x="387.0" y="777.0" textLength="84.8" lengthAdjust="spacingAndGlyphs">CITTA&#39; DELLA PIEVE</text>
<text x="399.9" y="789.0" textLength="58.9" lengthAdjust="spacingAndGlyphs">POSITIVI =18</text>
<text x="610.5" y="776.0" textLength="58.8" lengthAdjust="spacingAndGlyphs">POSITIVI =13</text>
<text x="555.2" y="788.5" textLength="59.3" lengthAdjust="spacingAndGlyphs">POSITIVI =14</text>
<text x="451.8" y="807.9" textLength="75.9" lengthAdjust="spacingAndGlyphs">MONTEGABBIONE</text>
<text x="401.9" y="813.1" textLength="27.0" lengthAdjust="spacingAndGlyphs">FABRO</text>
<text x="617.1" y="809.9" textLength="55.2" lengthAdjust="spacingAndGlyphs">COLLAZZONE</text>
<text x="617.5" y="822.9" textLength="53.8" lengthAdjust="spacingAndGlyphs">POSITIVI =3</text>
<text x="701.2" y="791.6" textLength="39.6" lengthAdjust="spacingAndGlyphs">BEVAGNA</text>
<text x="695.4" y="803.7" textLength="52.8" lengthAdjust="spacingAndGlyphs">POSITIVI =1</text>
<text x="778.8" y="601.3" textLength="71.9" lengthAdjust="spacingAndGlyphs">GUALDO TADINO</text>
<text x="787.8" y="613.3" textLength="53.9" lengthAdjust="spacingAndGlyphs">POSITIVI =7</text>
<text x="723.6" y="632.9" textLength="58.8" lengthAdjust="spacingAndGlyphs">VALFABBRICA</text>
<text x="726.0" y="644.9" textLength="53.8" lengthAdjust="spacingAndGlyphs">POSITIVI =8</text>
<text x="802.4" y="670.2" textLength="68.2" lengthAdjust="spacingAndGlyphs">NOCERA UMBRA</text>
<text x="809.8" y="682.2" textLength="53.8" lengthAdjust="spacingAndGlyphs">POSITIVI =2</text>
<text x="732.9" y="696.1" textLength="28.0" lengthAdjust="spacingAndGlyphs">ASSISI</text>
<text x="718.0" y="708.5" textLength="58.8" lengthAdjust="spacingAndGlyphs">POSITIVI =22</text>
<text x="788.8" y="715.7" textLength="45.9" lengthAdjust="spacingAndGlyphs">VALTOPINA</text>
<text x="784.8" y="728.1" textLength="53.9" lengthAdjust="spacingAndGlyphs">POSITIVI =1</text>
<text x="749.5" y="752.6" textLength="31.9" lengthAdjust="spacingAndGlyphs">SPELLO</text>
<text x="738.5" y="764.6" textLength="53.9" lengthAdjust="spacingAndGlyphs">POSITIVI =4</text>
<text x="808.2" y="773.6" textLength="38.9" lengthAdjust="spacingAndGlyphs">FOLIGNO</text>
<text x="798.8" y="785.5" textLength="58.3" lengthAdjust="spacingAndGlyphs">POSITIVI =23</text>
<text x="859.3" y="828.2" textLength="38.3" lengthAdjust="spacingAndGlyphs">SELLANO</text>
<text x="724.8" y="836.4" textLength="57.3" lengthAdjust="spacingAndGlyphs">MONTEFALCO</text>
<text x="795.8" y="837.9" textLength="25.1" lengthAdjust="spacingAndGlyphs">TREVI</text>
<text x="781.2" y="849.4" textLength="53.7" lengthAdjust="spacingAndGlyphs">POSITIVI =3</text>
<text x="673.9" y="863.9" textLength="88.3" lengthAdjust="spacingAndGlyphs">GIANO DELL&#39;UMBRIA</text>
<text x="691.3" y="875.8" textLength="53.6" lengthAdjust="spacingAndGlyphs">POSITIVI =3</text>
<text x="655.8" y="837.4" textLength="58.6" lengthAdjust="spacingAndGlyphs">POSITIVI =17</text>
<text x="573.2" y="839.0" textLength="68.5" lengthAdjust="spacingAndGlyphs">FRATTA TODINA</text>
<text x="580.6" y="851.1" textLength="53.7" lengthAdjust="spacingAndGlyphs">POSITIVI =5</text>
<text x="541.2" y="868.9" textLength="119.2" lengthAdjust="spacingAndGlyphs">MONTE CASTELLO DI VIBIO</text>
<text x="522.7" y="856.4" textLength="53.8" lengthAdjust="spacingAndGlyphs">POSITIVI =1</text>
<text x="475.8" y="843.0" textLength="40.9" lengthAdjust="spacingAndGlyphs">PARRANO</text>
<text x="445.4" y="866.9" textLength="35.4" lengthAdjust="spacingAndGlyphs">FICULLE</text>
<text x="419.8" y="838.0" textLength="27.7" lengthAdjust="spacingAndGlyphs">FABRO</text>
<text x="389.6" y="872.9" textLength="44.7" lengthAdjust="spacingAndGlyphs">ALLERONA</text>
<text x="385.6" y="884.9" textLength="53.3" lengthAdjust="spacingAndGlyphs">POSITIVI =2</text>
<text x="394.4" y="910.8" textLength="80.4" lengthAdjust="spacingAndGlyphs">CASTEL VISCARDO</text>
<text x="407.9" y="923.2" textLength="52.9" lengthAdjust="spacingAndGlyphs">POSITIVI =7</text>
<text x="482.8" y="929.2" textLength="38.5" lengthAdjust="spacingAndGlyphs">ORVIETO</text>
<text x="472.8" y="941.6" textLength="58.8" lengthAdjust="spacingAndGlyphs">POSITIVI =38</text>
<text x="379.0" y="948.7" textLength="74.4" lengthAdjust="spacingAndGlyphs">CASTEL GIORGIO</text>
<text x="387.0" y="961.5" textLength="57.8" lengthAdjust="spacingAndGlyphs">POSITIVI =11</text>
<text x="453.8" y="964.7" textLength="35.9" lengthAdjust="spacingAndGlyphs">PORANO</text>
<text x="444.8" y="977.1" textLength="54.5" lengthAdjust="spacingAndGlyphs">POSITIVI =6</text>
<text x="623.0" y="904.8" textLength="21.4" lengthAdjust="spacingAndGlyphs">TODI</text>
<text x="606.5" y="917.2" textLength="53.9" lengthAdjust="spacingAndGlyphs">POSITIVI =5</text>
<text x="667.3" y="921.2" textLength="53.9" lengthAdjust="spacingAndGlyphs">POSITIVI =2</text>
<text x="554.0" y="951.5" textLength="31.9" lengthAdjust="spacingAndGlyphs">BASCHI</text>
<text x="543.2" y="963.5" textLength="53.3" lengthAdjust="spacingAndGlyphs">POSITIVI =8</text>
<text x="545.6" y="979.1" textLength="58.9" lengthAdjust="spacingAndGlyphs">MONTECCHIO</text>
<text x="547.6" y="991.5" textLength="53.5" lengthAdjust="spacingAndGlyphs">POSITIVI =1</text>
<text x="549.2" y="1008.0" textLength="41.9" lengthAdjust="spacingAndGlyphs">GUARDEA</text>
<text x="544.0" y="1030.6" textLength="38.5" lengthAdjust="spacingAndGlyphs">ALVIANO</text>
<text x="536.6" y="1042.9" textLength="53.3" lengthAdjust="spacingAndGlyphs">POSITIVI =1</text>
<text x="608.5" y="1052.9" textLength="32.9" lengthAdjust="spacingAndGlyphs">AMELIA</text>
<text x="597.9" y="1064.9" textLength="54.5" lengthAdjust="spacingAndGlyphs">POSITIVI =3</text>
<text x="541.2" y="1074.3" textLength="51.9" lengthAdjust="spacingAndGlyphs">ATTIGLIANO</text>
<text x="572.6" y="1086.2" textLength="26.9" lengthAdjust="spacingAndGlyphs">GIOVE</text>
<text x="558.9" y="1098.8" textLength="54.9" lengthAdjust="spacingAndGlyphs">POSITIVI =2</text>
<text x="624.5" y="995.4" textLength="72.0" lengthAdjust="spacingAndGlyphs">MONTECASTRILLI</text>
<text x="636.1" y="1008.3" textLength="53.3" lengthAdjust="spacingAndGlyphs">POSITIVI =4</text>
<text x="674.0" y="965.0" textLength="59.9" lengthAdjust="spacingAndGlyphs">ACQUASPARTA</text>
<text x="677.9" y="977.5" textLength="53.3" lengthAdjust="spacingAndGlyphs">POSITIVI =5</text>
<text x="668.0" y="1022.1" textLength="51.6" lengthAdjust="spacingAndGlyphs">SAN GEMINI</text>
<text x="664.7" y="1034.2" textLength="58.8" lengthAdjust="spacingAndGlyphs">POSITIVI =14</text>
<text x="742.5" y="1042.9" textLength="25.0" lengthAdjust="spacingAndGlyphs">TERNI</text>
<text x="725.5" y="1054.9" textLength="58.9" lengthAdjust="spacingAndGlyphs">POSITIVI =85</text>
<text x="769.5" y="1028.3" textLength="65.8" lengthAdjust="spacingAndGlyphs">MONTEFRANCO</text>
<text x="775.8" y="1040.3" textLength="53.1" lengthAdjust="spacingAndGlyphs">POSITIVI =1</text>
<text x="807.4" y="1052.9" textLength="33.9" lengthAdjust="spacingAndGlyphs">ARRONE</text>
<text x="797.4" y="1065.3" textLength="53.9" lengthAdjust="spacingAndGlyphs">POSITIVI =3</text>
<text x="666.1" y="1091.8" textLength="26.5" lengthAdjust="spacingAndGlyphs">NARNI</text>
<text x="652.7" y="1104.2" textLength="53.9" lengthAdjust="spacingAndGlyphs">POSITIVI =6</text>
<text x="726.5" y="1109.8" textLength="52.9" lengthAdjust="spacingAndGlyphs">STRONCONE</text>
<text x="726.5" y="1122.1" textLength="52.9" lengthAdjust="spacingAndGlyphs">POSITIVI =3</text>
<text x="677.7" y="1136.1" textLength="41.9" lengthAdjust="spacingAndGlyphs">OTRICOLI</text>
<text x="653.3" y="1159.0" textLength="85.2" lengthAdjust="spacingAndGlyphs">CALVI DELL&#39;UMBRIA</text>
<text x="811.8" y="1011.0" textLength="52.4" lengthAdjust="spacingAndGlyphs">FERENTILLO</text>
<text x="762.5" y="935.2" textLength="38.7" lengthAdjust="spacingAndGlyphs">SPOLETO</text>
<text x="752.5" y="947.5" textLength="59.3" lengthAdjust="spacingAndGlyphs">POSITIVI =16</text>
<text x="829.1" y="910.8" textLength="66.5" lengthAdjust="spacingAndGlyphs">VALLO DI NERA</text>
<text x="859.7" y="947.7" textLength="61.2" lengthAdjust="spacingAndGlyphs">POGGIODOMO</text>
<text x="821.1" y="973.1" textLength="51.5" lengthAdjust="spacingAndGlyphs">SCHEGGINO</text>
<text x="843.1" y="885.3" textLength="94.4" lengthAdjust="spacingAndGlyphs">CERRETO DI SPOLETO</text>
<text x="783.8" y="863.3" textLength="112.8" lengthAdjust="spacingAndGlyphs">CAMPELLO SUL CLITUNNO</text>
<text x="936.1" y="853.4" textLength="25.9" lengthAdjust="spacingAndGlyphs">PRECI</text>
<text x="974.4" y="907.2" textLength="33.5" lengthAdjust="spacingAndGlyphs">NORCIA</text>
<text x="964.4" y="919.2" textLength="53.9" lengthAdjust="spacingAndGlyphs">POSITIVI =5</text>
<text x="932.1" y="966.1" textLength="31.9" lengthAdjust="spacingAndGlyphs">CASCIA</text>
<text x="920.9" y="978.1" textLength="53.9" lengthAdjust="spacingAndGlyphs">POSITIVI =7</text>
</g>
<g transform="matrix(1.0038117,0.0149241,-0.0149241,1.0038117,709.7759,-33.5617)" stroke-linejoin="round">
<polygon points="523.7,374.3 530.1,357.5 537.6,345.5 545.2,336.0 552.6,329.0 557.6,336.4 564.6,340.4 571.6,338.0 578.5,341.2 586.5,340.0 592.5,342.0 593.9,346.3 599.5,345.5 598.5,359.9 587.5,367.9 573.6,374.3 566.6,369.5 561.6,366.9 558.6,374.9 554.6,381.9 553.6,388.9 558.6,395.8 547.6,398.8 538.6,401.4 531.6,403.8 527.7,398.8 524.1,388.9 522.7,380.9" fill="#fff" stroke="#d6a462" stroke-width="1.05"/>
<polygon points="491.7,387.9 498.1,381.9 505.3,382.3 511.7,379.9 516.1,378.9 520.7,381.9 522.7,387.9 524.7,393.8 527.7,398.8 525.7,401.8 519.7,403.8 515.7,409.8 517.7,414.2 513.7,415.8 509.7,412.8 503.7,409.8 497.7,408.2 491.7,405.8 490.1,397.8" fill="#fff" stroke="#d6a462" stroke-width="1.05"/>
<polygon points="511.7,432.8 509.7,421.8 501.7,423.8 493.7,429.8 491.7,435.7 485.7,441.7 481.8,445.7 471.8,445.7 465.8,451.7 457.8,453.7 454.8,459.7 455.8,467.7 459.8,470.7 469.8,470.7 475.8,465.7 479.8,463.7 489.7,463.7 499.7,465.7 511.7,466.7 523.7,464.7 531.6,469.7 539.6,475.7 543.6,473.7 544.0,461.7 542.6,449.7 539.6,437.7 531.6,431.8 523.7,435.7 515.7,437.7" fill="#fff" stroke="#d6a462" stroke-width="1.05"/>
<polygon points="602.4,465.9 608.6,462.2 614.9,464.7 621.1,463.5 627.3,462.8 632.3,464.7 639.8,467.2 641.7,456.0 644.8,454.7 647.3,457.2 652.9,457.8 651.0,464.7 644.8,473.4 639.8,479.6 633.6,485.9 629.8,492.1 626.1,499.6 621.1,505.8 617.4,512.0 612.4,518.3 604.9,523.2 598.7,527.0 592.5,529.5 590.0,527.0 593.7,518.3 594.9,512.0 587.5,509.5 586.2,505.8 590.0,500.8 594.9,492.1 601.2,485.9 606.2,480.9 608.6,477.2 604.9,472.2" fill="#fff" stroke="#d6a462" stroke-width="1.05"/>
<polygon points="642.3,398.7 647.3,390.0 654.7,383.7 661.6,381.5 667.2,386.2 672.2,394.9 677.2,395.6 683.4,390.0 692.1,394.9 702.7,406.2 692.1,412.4 689.0,417.4 689.6,432.3 684.6,438.5 674.7,449.8 665.9,457.2 661.0,467.2 657.2,477.2 647.3,492.1 639.8,504.6 637.3,509.5 632.3,505.8 626.1,499.6 629.8,492.1 639.8,479.6 651.0,464.7 652.9,457.8 647.3,457.2 644.8,454.7 641.7,456.0 639.8,467.2 632.3,464.7 621.1,463.5 614.9,464.7 608.6,462.2 602.4,465.9 602.4,462.2 608.6,459.7 614.9,458.5 617.4,449.8 619.9,442.3 627.3,436.0 631.1,432.3 623.6,430.4 614.9,429.8 609.9,427.3 609.9,422.3 616.1,418.6 627.3,416.7 637.3,416.7 646.0,416.1 650.4,414.9 651.0,407.4 647.3,403.0" fill="#fff" stroke="#d6a462" stroke-width="1.05"/>
<polygon points="752.9,459.7 759.9,455.7 768.9,454.7 772.8,453.7 780.8,455.7 788.8,459.7 794.8,461.7 796.8,453.7 800.8,443.7 806.8,437.7 812.8,436.7 818.7,439.7 826.7,440.7 829.7,446.7 824.7,451.7 823.7,459.7 828.7,465.7 829.7,473.7 822.7,479.7 816.7,483.6 811.8,487.6 804.8,484.6 792.8,483.6 782.8,482.6 776.8,485.6 768.9,489.6 764.9,487.6 760.9,479.7 756.9,467.7" fill="#fff" stroke="#d6a462" stroke-width="1.05"/>
<polygon points="766.9,491.6 776.8,485.6 782.8,482.6 792.8,483.6 804.8,484.6 811.8,487.6 815.8,493.6 818.7,499.6 820.7,504.6 814.8,506.6 808.8,509.6 802.8,515.6 796.8,521.6 788.8,525.6 784.8,523.6 776.8,519.6 766.9,513.6 764.9,505.6 763.9,497.6" fill="#fff" stroke="#d6a462" stroke-width="1.05"/>
<polygon points="788.8,525.6 796.8,521.6 802.8,515.6 808.8,509.6 814.8,506.6 820.7,504.6 824.7,509.6 828.7,515.6 830.7,521.6 824.7,525.6 818.7,531.5 812.8,535.5 806.8,537.5 802.8,541.5 800.8,547.5 796.8,551.5 792.8,553.5 790.8,545.5 790.8,533.5" fill="#fff" stroke="#d6a462" stroke-width="1.05"/>
<polygon points="796.8,551.5 802.8,541.5 812.8,535.5 824.7,525.6 830.7,521.6 834.7,525.6 838.7,535.5 838.7,545.5 834.7,555.5 830.7,561.5 822.7,565.5 814.8,569.5 808.8,567.5 802.8,561.5 798.8,557.5" fill="#fff" stroke="#d6a462" stroke-width="1.05"/>
<polygon points="703.3,407.8 715.0,421.8 726.9,437.7 738.9,449.7 750.9,459.7 756.9,467.7 760.9,479.7 763.9,497.6 764.9,505.6 766.9,513.6 776.8,519.6 784.8,523.6 788.8,525.6 790.8,533.5 790.8,545.5 792.8,553.5 786.8,561.5 778.8,567.5 772.8,578.0 770.9,578.0 768.9,588.0 766.9,596.0 754.9,603.9 742.9,609.9 732.9,613.9 715.0,613.9 715.0,611.9 714.8,612.2 707.0,613.7 702.3,609.1 700.7,604.4 691.4,605.9 682.0,602.8 674.2,598.2 668.0,593.5 669.6,587.3 674.2,581.0 678.9,574.8 677.4,571.7 671.1,570.1 661.8,567.0 657.1,562.3 654.0,556.1 649.3,554.5 643.1,556.1 644.6,551.4 643.1,545.2 632.2,546.7 625.9,543.6 627.5,539.0 629.1,531.2 635.3,523.4 632.2,509.3 637.3,509.5 639.8,504.6 647.3,492.1 657.2,477.2 661.0,467.2 665.9,457.2 674.7,449.8 684.6,438.5 689.6,432.3 689.6,417.4 692.1,412.4 702.7,406.2" fill="#fff" stroke="#d6a462" stroke-width="1.05"/>
<polygon points="535.6,525.6 543.6,519.6 547.6,515.6 553.6,511.6 557.6,505.6 563.6,500.6 573.6,502.6 579.5,506.6 587.5,505.6 594.9,512.0 593.7,518.3 590.0,527.0 592.5,529.5 598.7,527.0 604.9,523.2 612.4,518.3 617.4,512.0 621.1,505.8 626.1,499.6 632.3,505.8 637.3,509.5 632.2,509.3 635.3,523.4 629.1,531.2 627.5,539.0 625.9,543.6 632.2,546.7 643.1,545.2 644.6,551.4 643.1,556.1 638.4,562.3 635.3,573.2 629.1,574.8 625.9,581.0 622.8,588.8 613.5,584.1 607.3,578.7 601.0,579.5 593.2,582.6 585.4,586.5 585.5,588.0 587.5,598.0 589.5,605.9 585.3,609.3 579.3,602.7 575.4,599.0 577.1,591.8 563.0,596.8 562.6,593.0 561.6,588.8 556.5,589.9 551.5,590.9 546.4,589.9 541.4,590.9 535.3,590.9 535.6,593.5 537.1,577.9 538.7,562.3 538.7,553.0 541.8,543.6 540.3,535.8 535.6,528.0" fill="#fff" stroke="#d6a462" stroke-width="1.05"/>
<polygon points="541.4,552.4 531.2,557.5 521.1,562.5 513.0,568.6 500.9,569.6 493.8,573.7 490.7,577.7 491.8,582.8 494.8,586.8 500.9,585.8 504.9,586.8 508.0,590.9 510.0,596.9 515.0,598.0 521.1,599.0 527.2,598.0 533.3,596.9 534.3,590.9 535.3,584.8 536.3,576.7 537.3,568.6 539.3,560.5" fill="#fff" stroke="#d6a462" stroke-width="1.05"/>
<polygon points="490.7,577.7 491.8,582.8 494.8,586.8 493.8,592.9 491.8,601.0 488.7,609.1 484.7,619.2 480.6,629.3 476.6,642.5 470.5,637.4 463.4,631.4 455.3,625.3 446.2,617.2 449.2,609.1 450.2,603.0 452.3,596.9 455.3,590.9 456.3,585.8 455.3,580.7 455.3,572.6 459.4,570.6 463.4,569.6 468.5,572.6 472.5,574.7 476.6,577.7 480.6,579.7 486.7,580.7" fill="#fff" stroke="#d6a462" stroke-width="1.05"/>
<polygon points="476.6,642.5 480.6,629.3 484.7,619.2 488.7,609.1 491.8,601.0 493.8,592.9 494.8,587.8 500.9,585.8 504.9,586.8 508.0,590.9 510.0,596.9 515.0,598.0 521.1,599.0 527.2,598.0 533.3,596.9 535.3,590.9 541.4,590.9 546.4,589.9 551.5,590.9 556.5,589.9 561.6,588.8 562.6,592.9 562.6,599.0 563.6,605.0 564.6,611.1 563.6,617.2 561.6,621.2 556.5,624.3 551.5,627.3 547.4,629.3 545.4,634.4 476.6,642.7" fill="#fff" stroke="#d6a462" stroke-width="1.05"/>
<polygon points="392.0,651.8 397.9,637.9 403.9,629.9 411.9,625.9 421.9,619.9 431.9,617.9 446.8,616.9 461.8,629.9 475.8,642.9 491.7,653.8 507.7,664.8 497.7,677.8 487.7,691.7 480.8,701.7 480.8,709.7 471.8,709.7 463.8,711.7 455.8,715.7 447.8,721.7 440.8,725.7 431.9,725.7 421.9,729.7 417.9,725.7 421.9,717.7 423.9,707.7 417.9,699.7 411.9,695.7 403.9,697.7 399.9,689.8 395.9,681.8 395.9,669.8 392.0,661.8" fill="#fff" stroke="#d6a462" stroke-width="1.05"/>
<polygon points="475.8,642.9 545.4,634.3 547.4,629.3 551.6,627.3 556.6,624.3 561.6,621.1 564.6,611.1 563.6,604.9 562.6,599.0 563.0,596.8 577.1,591.8 575.4,599.0 579.3,602.7 585.3,609.3 586.3,613.5 569.2,617.9 564.4,627.9 566.2,635.5 569.2,640.1 571.6,645.9 567.6,653.8 561.6,657.8 559.6,661.8 563.6,667.8 567.6,675.8 566.6,685.8 565.6,693.7 563.6,701.7 561.6,707.7 557.6,709.7 551.6,707.7 541.6,705.7 535.6,699.7 527.7,697.7 517.7,697.7 507.7,693.7 503.7,689.8 503.7,677.8 507.7,664.8" fill="#fff" stroke="#d6a462" stroke-width="1.05"/>
<polygon points="480.8,701.7 487.7,691.7 497.7,677.8 507.7,664.8 503.7,677.8 503.7,689.8 507.7,693.7 517.7,697.7 527.7,697.7 533.6,705.7 531.6,713.7 523.7,715.7 521.7,725.7 521.7,737.6 515.7,739.6 507.7,745.6 501.7,753.6 495.7,749.6 489.7,749.6 481.8,747.6 473.8,743.6 467.8,737.6 467.8,727.7 471.8,717.7 471.8,709.7 480.8,709.7" fill="#fff" stroke="#d6a462" stroke-width="1.05"/>
<polygon points="447.8,721.7 455.8,715.7 463.8,711.7 471.8,709.7 471.8,717.7 467.8,727.7 467.8,737.6 461.8,739.6 455.8,737.6 447.8,731.7 443.8,725.7" fill="#fff" stroke="#d6a462" stroke-width="1.05"/>
<polygon points="643.4,709.7 651.4,701.7 657.4,693.7 659.4,691.7 667.3,697.7 675.3,699.7 681.3,701.7 678.9,709.9 673.9,714.9 669.0,719.8 666.5,726.4 665.7,733.0 665.7,741.3 662.4,749.5 659.1,751.2 652.5,749.5 645.9,746.2 639.3,742.9 632.6,739.6 626.0,735.5 616.1,734.7 624.4,733.0 631.0,731.4 637.6,723.1 642.6,716.5 645.9,708.3" fill="#fff" stroke="#d6a462" stroke-width="1.05"/>
<polygon points="665.7,721.5 675.6,719.8 685.5,721.5 695.4,724.8 705.3,729.7 708.6,736.3 705.3,741.3 700.3,742.9 693.7,747.9 688.8,752.8 685.5,756.1 680.5,762.7 680.5,769.3 675.6,775.9 672.3,782.6 667.3,785.9 665.7,779.3 667.3,772.6 665.7,764.4 662.4,757.8 660.7,752.8 662.4,749.5 665.7,741.3 665.7,733.0" fill="#fff" stroke="#d6a462" stroke-width="1.05"/>
<polygon points="705.3,741.3 708.6,736.3 718.5,739.6 725.1,742.9 730.1,747.9 733.4,754.5 735.0,762.7 728.4,764.4 718.5,766.0 713.5,759.4 708.6,762.7 703.6,769.3 700.3,775.9 697.0,782.6 692.1,785.9 688.8,782.6 685.5,775.9 682.2,769.3 680.5,762.7 685.5,756.1 688.8,752.8 693.7,747.9 700.3,742.9" fill="#fff" stroke="#d6a462" stroke-width="1.05"/>
<polygon points="716.2,649.6 719.0,651.8 723.0,657.8 732.9,661.8 742.9,659.8 750.9,655.8 754.9,649.8 762.9,646.8 772.8,645.9 782.8,645.9 782.8,653.8 788.8,657.8 792.8,663.8 794.8,669.8 790.8,675.8 794.8,685.8 792.8,697.7 788.8,707.7 790.8,715.7 782.8,717.7 776.8,723.7 770.9,731.7 762.9,735.7 750.9,737.6 738.9,739.6 730.9,741.6 723.0,737.6 715.0,733.7 707.0,731.7 703.0,727.7 703.3,727.7 709.3,721.7 711.3,713.7 717.2,705.7 715.2,697.7 707.3,693.7 695.3,689.8 691.3,685.8 693.3,677.8 699.3,667.8 705.3,657.8 711.3,653.8" fill="#fff" stroke="#d6a462" stroke-width="1.05"/>
<polygon points="715.0,613.9 732.9,613.9 742.9,609.9 754.9,603.9 766.9,596.0 776.8,598.0 782.8,603.9 786.8,611.9 788.8,621.9 790.8,631.9 790.8,639.9 782.8,645.9 772.8,645.9 762.9,646.8 754.9,649.8 750.9,655.8 742.9,659.8 732.9,661.8 723.0,657.8 719.0,651.8 716.2,649.6 715.0,643.9 713.0,633.9" fill="#fff" stroke="#d6a462" stroke-width="1.05"/>
<polygon points="772.8,578.0 778.8,567.5 786.8,561.5 792.8,553.5 798.8,557.5 802.8,561.5 808.8,567.5 814.8,569.5 822.7,565.5 830.7,561.5 834.7,557.5 842.7,565.5 850.7,573.4 852.7,578.0 852.7,588.0 854.7,598.0 854.7,609.9 850.7,617.9 842.7,623.9 832.7,631.9 822.7,633.9 814.8,631.9 806.8,635.9 798.8,637.9 790.8,639.9 790.8,631.9 788.8,621.9 786.8,611.9 782.8,603.9 776.8,598.0 768.9,588.0 770.9,578.0" fill="#fff" stroke="#d6a462" stroke-width="1.05"/>
<polygon points="782.8,645.9 790.8,639.9 798.8,637.9 806.8,635.9 814.8,631.9 822.7,633.9 832.7,631.9 842.7,623.9 850.7,617.9 854.7,609.9 862.6,609.9 868.6,611.9 870.6,621.9 868.6,633.9 866.6,643.9 860.7,649.8 852.7,653.8 850.7,657.8 856.7,663.8 866.6,665.8 872.6,669.8 876.6,677.8 878.6,685.8 882.6,691.7 880.6,701.7 878.6,713.7 870.6,711.7 858.7,711.7 846.7,711.7 836.7,713.7 832.7,709.7 830.7,701.7 826.7,697.7 818.7,699.7 814.8,701.7 812.8,693.7 806.8,689.8 800.8,685.8 794.8,685.8 790.8,675.8 794.8,669.8 792.8,663.8 788.8,657.8 782.8,653.8" fill="#fff" stroke="#d6a462" stroke-width="1.05"/>
<polygon points="794.8,685.8 800.8,685.8 806.8,689.8 812.8,693.7 814.8,701.7 818.7,699.7 826.7,697.7 830.7,701.7 832.7,709.7 836.7,713.7 832.7,721.7 830.7,729.7 828.7,735.7 820.7,735.7 816.7,733.7 812.8,729.7 806.8,727.7 798.8,727.7 794.8,723.7 790.8,717.7 788.8,707.7 792.8,697.7" fill="#fff" stroke="#d6a462" stroke-width="1.05"/>
<polygon points="730.9,741.6 738.9,739.6 750.9,737.6 762.9,735.7 770.9,731.7 776.8,723.7 782.8,717.7 790.8,715.7 794.8,723.7 798.8,729.7 796.8,737.6 792.8,745.6 790.8,751.6 786.8,757.6 778.8,765.6 770.9,769.6 762.9,773.6 754.9,775.6 746.9,775.6 738.9,775.6 734.9,765.6 732.9,753.6" fill="#fff" stroke="#d6a462" stroke-width="1.05"/>
<polygon points="692.1,785.9 697.0,782.6 700.3,775.9 703.6,769.3 708.6,762.7 713.5,759.4 718.5,766.0 728.4,764.4 735.0,762.7 738.3,772.6 741.6,780.9 744.9,789.2 748.2,797.4 749.9,802.4 744.9,807.3 738.3,810.6 731.7,813.9 725.1,817.2 721.8,818.9 718.5,813.9 716.9,807.3 715.2,802.4 708.6,800.7 702.0,802.4 695.4,807.3 692.1,799.1" fill="#fff" stroke="#d6a462" stroke-width="1.05"/>
<polygon points="720.2,832.1 723.5,825.5 721.8,818.9 725.1,817.2 731.7,813.9 738.3,810.6 744.9,807.3 749.9,802.4 758.1,807.3 768.0,812.3 774.6,813.9 781.2,815.6 781.2,825.5 781.2,837.0 779.6,845.3 777.9,851.9 774.6,858.5 768.0,861.8 758.1,865.1 749.9,865.1 746.6,861.8 741.6,853.5 736.7,848.6 731.7,843.6 725.1,838.7" fill="#fff" stroke="#d6a462" stroke-width="1.05"/>
<polygon points="781.2,815.6 791.2,815.6 801.1,812.3 807.7,810.6 817.6,807.3 827.5,804.0 830.8,802.4 834.1,812.3 837.4,818.9 840.7,828.8 844.0,835.4 837.4,837.0 830.8,840.3 827.5,845.3 824.2,851.9 817.6,855.2 807.7,858.5 801.1,860.2 794.5,858.5 787.8,858.5 781.2,858.5 777.9,853.5 779.6,845.3 781.2,837.0 781.2,825.5" fill="#fff" stroke="#d6a462" stroke-width="1.05"/>
<polygon points="616.1,799.1 619.4,794.1 626.0,792.5 632.6,789.2 639.3,780.9 644.2,777.6 652.5,777.6 659.1,779.3 665.7,779.3 667.3,785.9 669.0,785.9 667.3,792.5 665.7,799.1 662.4,805.7 659.1,812.3 659.1,818.9 657.4,825.5 655.8,832.1 650.8,838.7 649.2,845.3 642.6,842.0 637.6,837.0 632.6,830.4 626.0,828.8 619.4,825.5 616.1,818.9 616.1,812.3" fill="#fff" stroke="#d6a462" stroke-width="1.05"/>
<polygon points="617.0,733.0 626.0,735.5 632.6,739.6 639.3,742.9 645.9,746.2 652.5,749.5 659.1,751.2 660.7,752.8 662.4,757.8 665.7,764.4 667.3,772.6 665.7,779.3 659.1,779.3 652.5,777.6 644.2,777.6 639.3,780.9 632.6,789.2 626.0,792.5 619.4,794.1 616.1,799.1 617.8,789.2 624.4,782.6 629.5,776.4 633.5,770.0 630.2,762.7 624.7,757.1 614.8,751.2" fill="#fff" stroke="#d6a462" stroke-width="1.05"/>
<polygon points="672.3,782.6 675.6,775.9 680.5,769.3 685.5,775.9 688.8,782.6 692.1,785.9 692.1,799.1 695.4,807.3 702.0,802.4 708.6,800.7 715.2,802.4 716.9,807.3 718.5,813.9 721.8,818.9 723.5,825.5 720.2,832.1 716.9,837.0 710.2,840.3 703.6,845.3 697.0,851.9 692.1,855.2 685.5,858.5 678.9,860.2 672.3,861.8 667.3,865.1 662.4,863.5 660.7,855.2 659.1,848.6 654.1,846.9 649.2,845.3 650.8,838.7 655.8,832.1 657.4,825.5 659.1,818.9 659.1,812.3 662.4,805.7 665.7,799.1 667.3,792.5 669.0,785.9" fill="#fff" stroke="#d6a462" stroke-width="1.05"/>
<polygon points="593.0,822.2 602.9,818.9 609.5,818.9 616.1,818.9 619.4,825.5 626.0,828.8 632.6,830.4 637.6,837.0 642.6,842.0 639.3,848.6 632.6,850.2 626.0,851.9 617.8,851.9 609.5,850.2 599.6,848.6 593.0,845.3 591.4,835.4" fill="#fff" stroke="#d6a462" stroke-width="1.05"/>
<polygon points="579.8,884.9 583.1,873.4 586.4,861.8 591.4,855.2 599.6,850.2 609.5,850.2 617.8,851.9 626.0,851.9 631.0,850.2 629.3,855.2 622.7,858.5 614.5,863.5 607.9,870.1 602.9,875.0 598.0,881.6 593.0,888.2 586.4,889.9" fill="#fff" stroke="#d6a462" stroke-width="1.05"/>
<polygon points="532.4,788.7 535.4,782.5 538.5,776.3 543.1,771.7 549.3,767.1 557.0,765.6 563.2,760.9 557.0,754.8 553.9,748.6 552.1,738.6 553.2,721.5 566.4,727.9 581.8,717.6 588.5,726.9 597.3,725.3 595.0,737.3 603.7,744.0 605.0,750.6 614.8,751.1 624.7,757.2 630.3,762.8 633.5,770.0 629.5,776.3 624.9,782.5 627.9,788.7 624.9,794.8 618.7,797.9 617.2,804.1 618.7,811.8 617.2,818.0 612.5,822.6 606.4,821.1 600.2,819.5 594.0,822.6 587.9,825.7 584.8,819.5 587.9,813.3 584.8,807.2 578.6,807.2 569.4,804.1 560.1,801.0 550.9,801.0 541.6,797.9 535.4,794.8" fill="#fff" stroke="#d6a462" stroke-width="1.05"/>
<polygon points="516.9,790.2 520.0,788.7 526.2,788.7 532.4,788.7 535.4,794.8 541.6,797.9 550.9,801.0 560.1,801.0 569.4,804.1 578.6,807.2 584.8,807.2 587.9,813.3 584.8,819.5 587.9,825.7 594.0,825.7 594.0,834.9 590.9,841.1 589.4,850.4 587.9,859.6 585.5,867.9 583.1,873.5 579.7,884.9 571.6,893.9 563.6,891.9 559.6,883.9 555.6,875.9 547.6,873.9 541.6,875.9 535.6,881.9 531.6,883.9 531.6,875.9 521.7,873.9 511.7,871.9 501.7,873.9 492.1,878.1 492.3,878.1 490.7,871.9 493.8,862.7 495.3,856.5 501.5,853.4 510.8,851.9 515.4,850.4 520.0,844.2 521.6,838.0 518.5,831.9 513.9,825.7 512.3,816.4 513.9,807.2 515.4,797.9" fill="#fff" stroke="#d6a462" stroke-width="1.05"/>
<polygon points="467.8,737.6 473.8,743.6 481.8,747.6 489.7,749.6 495.7,749.6 501.7,753.6 507.7,745.6 515.7,739.6 521.7,737.6 531.6,737.6 539.6,741.6 547.0,743.0 552.0,738.6 553.9,748.6 557.0,754.8 563.2,760.9 557.0,765.6 549.3,767.1 543.1,771.7 538.5,776.3 535.4,782.5 532.4,788.7 526.2,788.7 520.0,788.7 516.9,790.2 510.8,788.7 504.6,788.7 498.4,785.6 492.3,784.1 483.0,784.1 473.8,784.1 464.5,785.6 458.3,785.6 456.8,784.1 458.3,776.3 456.8,767.1 458.3,757.8 459.9,748.6 461.4,739.3" fill="#fff" stroke="#d6a462" stroke-width="1.05"/>
<polygon points="418.3,728.5 426.0,727.0 433.7,725.5 442.9,725.5 447.6,727.0 455.3,734.7 461.4,739.3 459.9,748.6 458.3,757.8 456.8,767.1 458.3,776.3 456.8,784.1 452.2,788.7 444.5,791.8 436.8,797.9 430.6,804.1 422.9,804.1 415.2,801.0 409.0,801.0 402.8,804.1 396.7,805.6 398.2,794.8 401.3,782.5 404.4,773.3 405.9,760.9 409.0,751.7 412.1,740.9 415.2,733.2" fill="#fff" stroke="#d6a462" stroke-width="1.05"/>
<polygon points="407.5,804.1 415.2,801.0 422.9,804.1 430.6,804.1 426.0,808.7 418.3,813.3 412.1,818.0 409.0,824.1 402.8,827.2 407.5,821.1 407.5,813.3" fill="#fff" stroke="#d6a462" stroke-width="1.05"/>
<polygon points="430.6,804.1 435.2,810.3 438.3,818.0 442.9,822.6 436.8,825.7 427.5,827.2 418.3,828.8 410.5,831.9 402.8,834.2 396.7,832.6 395.1,829.5 402.8,827.2 409.0,824.1 412.1,818.0 418.3,813.3 426.0,808.7" fill="#fff" stroke="#d6a462" stroke-width="1.05"/>
<polygon points="402.8,834.2 410.5,831.9 418.3,828.8 427.5,827.2 436.8,825.7 442.9,822.6 446.0,825.7 444.5,831.9 441.4,838.0 439.8,844.2 436.8,850.4 433.7,848.8 424.4,847.3 415.2,845.7 409.0,842.6 405.9,838.0" fill="#fff" stroke="#d6a462" stroke-width="1.05"/>
<polygon points="436.8,797.9 444.5,791.8 452.2,788.7 456.8,784.1 464.5,785.6 466.1,797.9 464.5,813.3 464.5,825.7 458.3,822.6 449.1,824.1 442.9,822.6 438.3,818.0 436.8,813.3 433.7,808.7" fill="#fff" stroke="#d6a462" stroke-width="1.05"/>
<polygon points="464.5,785.6 473.8,784.1 483.0,784.1 492.3,784.1 498.4,785.6 504.6,788.7 510.8,788.7 516.9,790.2 515.4,797.9 513.9,807.2 512.3,816.4 512.3,825.7 504.6,827.2 498.4,827.2 492.3,819.5 486.1,818.0 479.9,819.5 473.8,825.7 467.6,827.2 464.5,825.7 464.5,813.3 466.1,797.9" fill="#fff" stroke="#d6a462" stroke-width="1.05"/>
<polygon points="470.7,825.7 479.9,819.5 486.1,818.0 492.3,819.5 498.4,827.2 504.6,827.2 512.3,825.7 518.5,831.9 521.6,838.0 520.0,844.2 515.4,850.4 510.8,851.9 501.5,853.4 495.3,856.5 493.8,862.7 490.7,871.9 489.2,862.7 486.1,856.5 479.9,850.4 476.8,844.2 473.8,836.5" fill="#fff" stroke="#d6a462" stroke-width="1.05"/>
<polygon points="436.8,850.4 439.8,844.2 441.4,838.0 444.5,831.9 446.0,825.7 458.3,822.6 464.5,825.7 470.7,825.7 473.8,836.5 476.8,844.2 479.9,850.4 486.1,856.5 489.2,862.7 490.7,871.9 492.3,878.1 491.7,875.9 483.8,879.9 473.8,881.9 469.8,887.9 467.8,893.9 463.8,899.9 459.8,897.9 455.8,893.9 453.8,891.9 451.8,887.9 449.8,879.9 445.8,873.9 441.8,865.9 435.9,857.9 431.9,850.0 439.9,842.0" fill="#fff" stroke="#d6a462" stroke-width="1.05"/>
<polygon points="374.0,848.0 382.0,842.0 392.0,838.0 401.9,836.0 407.9,840.0 417.9,846.0 431.9,850.0 435.9,857.9 441.8,865.9 445.8,873.9 449.8,879.9 451.8,887.9 453.8,891.9 447.8,889.9 437.9,887.9 429.9,889.9 423.9,893.9 417.9,899.9 409.9,899.9 401.9,895.9 395.9,891.9 390.0,885.9 386.0,875.9 382.0,865.9 378.0,856.0" fill="#fff" stroke="#d6a462" stroke-width="1.05"/>
<polygon points="413.9,919.8 417.9,909.8 421.9,899.9 425.9,893.9 431.9,889.9 437.9,887.9 447.8,889.9 451.8,895.9 453.8,907.8 451.8,915.8 445.8,919.8 437.9,921.8 429.9,919.8 419.9,917.8" fill="#fff" stroke="#d6a462" stroke-width="1.05"/>
<polygon points="388.0,937.8 394.0,931.8 401.9,927.8 409.9,923.8 415.9,921.8 419.9,925.8 425.9,929.8 431.9,933.8 435.9,941.8 437.9,951.7 435.9,961.7 431.9,967.7 427.9,973.7 419.9,971.7 411.9,969.7 403.9,963.7 397.9,957.7 392.0,949.7" fill="#fff" stroke="#d6a462" stroke-width="1.05"/>
<polygon points="573.6,901.9 571.6,893.9 579.7,884.9 586.3,889.9 592.9,888.3 597.9,881.7 602.9,874.9 607.9,869.9 614.5,863.3 622.6,858.5 629.2,855.2 631.0,850.2 639.2,848.6 649.2,845.4 659.2,848.6 662.4,863.3 667.3,865.1 675.5,861.7 679.3,867.9 677.3,875.9 675.3,885.9 673.3,897.9 671.3,905.8 673.3,913.8 675.3,921.8 679.3,927.8 681.3,933.8 677.3,939.8 671.3,945.8 664.8,950.9 650.4,956.3 641.6,960.7 633.8,965.1 631.6,953.1 626.2,955.3 625.0,965.1 615.3,967.7 611.5,959.7 613.5,953.7 611.5,945.8 603.5,935.8 597.5,927.8 591.5,919.8 585.5,917.8 581.5,923.8 579.5,917.8 575.6,909.8" fill="#fff" stroke="#d6a462" stroke-width="1.05"/>
<polygon points="523.7,953.7 527.7,951.7 535.6,949.7 543.6,945.8 549.6,941.8 551.6,933.8 555.6,927.8 561.6,925.8 567.6,927.8 575.6,927.8 581.5,923.8 585.5,917.8 591.5,919.8 597.5,927.8 603.5,935.8 611.5,945.8 613.5,953.7 611.5,959.7 605.5,957.7 597.5,955.7 591.5,957.7 583.5,957.7 571.6,959.7 561.6,961.7 551.6,965.7 545.6,969.7 543.6,977.7 541.6,981.7 535.6,981.7 531.6,977.7 529.7,969.7 527.7,961.7" fill="#fff" stroke="#d6a462" stroke-width="1.05"/>
<polygon points="541.6,981.7 543.6,977.7 545.6,969.7 551.6,965.7 561.6,961.7 571.6,959.7 583.5,957.7 591.5,957.7 597.5,955.7 605.5,957.7 611.5,959.7 615.3,967.7 611.5,971.7 603.5,973.7 595.5,977.7 593.5,985.7 593.5,993.6 587.5,993.6 579.5,991.7 571.6,991.7 563.6,993.6 555.6,997.6 547.6,999.6 545.6,997.6 547.6,993.6 545.6,989.7" fill="#fff" stroke="#d6a462" stroke-width="1.05"/>
<polygon points="547.6,999.6 555.6,997.6 563.6,993.6 571.6,991.7 579.5,991.7 587.5,993.6 593.5,993.6 595.5,1001.6 593.5,1009.6 587.5,1013.6 579.5,1015.6 571.6,1015.6 563.6,1017.6 555.6,1017.6 547.6,1015.6 541.6,1011.6 539.6,1005.6" fill="#fff" stroke="#d6a462" stroke-width="1.05"/>
<polygon points="594.3,981.7 605.3,974.0 615.2,970.7 625.1,965.2 626.2,955.3 631.7,953.1 633.9,965.2 641.6,960.8 650.4,956.4 664.7,950.9 660.3,963.0 661.4,971.8 654.8,980.6 648.2,985.0 644.9,991.6 643.8,998.2 639.4,997.1 633.9,992.7 628.4,987.2 626.2,980.6 615.2,980.6 617.4,991.6 621.8,1000.4 628.4,1003.7 621.8,1012.5 621.8,1020.2 613.0,1013.6 602.0,1004.8 596.5,1000.4 592.1,989.4" fill="#fff" stroke="#d6a462" stroke-width="1.05"/>
<polygon points="675.6,861.8 678.9,860.2 685.5,858.5 692.1,855.2 697.0,851.9 700.3,858.5 705.3,865.1 708.6,875.0 710.2,884.9 711.9,891.5 708.6,898.1 709.1,893.9 711.1,901.9 717.0,907.8 719.0,915.8 723.0,921.8 729.0,927.8 727.2,934.4 720.6,936.6 718.4,941.0 709.7,943.2 696.5,946.6 683.3,938.8 675.5,932.2 679.3,927.8 675.3,921.8 673.3,913.8 671.3,905.8 673.3,897.9 675.3,885.9 677.3,875.9 679.3,867.9 675.5,861.7" fill="#fff" stroke="#d6a462" stroke-width="1.05"/>
<polygon points="697.0,851.9 703.6,845.3 710.2,840.3 716.9,837.0 720.2,832.1 725.1,838.7 731.7,843.6 736.7,848.6 741.6,853.5 746.6,861.8 743.3,868.4 741.6,875.0 738.3,880.0 735.0,883.3 728.4,884.9 721.8,881.6 715.2,883.3 711.9,888.2 710.2,884.9 708.6,875.0 705.3,865.1 700.3,858.5" fill="#fff" stroke="#d6a462" stroke-width="1.05"/>
<polygon points="746.6,861.8 749.9,865.1 758.1,865.1 768.0,861.8 774.6,858.5 781.2,858.5 787.8,858.5 794.5,861.8 791.2,865.1 789.5,871.7 784.5,876.7 774.6,880.0 764.7,881.6 754.8,883.3 748.2,878.3 743.3,871.7 743.3,868.4" fill="#fff" stroke="#d6a462" stroke-width="1.05"/>
<polygon points="664.7,950.9 668.0,943.2 672.4,936.6 675.7,932.2 679.0,933.3 683.4,938.8 685.6,943.2 692.1,946.5 696.5,946.5 703.1,944.3 709.7,943.2 716.3,944.3 718.5,941.0 720.7,936.6 727.3,934.4 731.7,936.6 736.1,941.0 738.3,945.4 736.1,949.8 731.7,950.9 725.1,949.8 718.5,952.0 717.4,956.4 720.7,958.6 729.5,958.6 733.9,963.0 736.1,967.4 737.2,974.0 733.9,980.6 731.7,985.0 729.5,991.6 727.3,993.8 722.9,996.0 716.3,994.9 709.7,993.8 703.1,992.7 698.7,993.8 696.5,990.5 694.3,986.1 690.0,982.8 685.6,978.4 682.3,974.0 676.8,969.6 673.5,965.2 668.0,960.8" fill="#fff" stroke="#d6a462" stroke-width="1.05"/>
<polygon points="615.2,980.6 626.2,980.6 628.4,987.2 633.9,992.7 639.4,997.1 643.8,998.2 644.9,991.6 648.2,985.0 654.8,980.6 661.4,971.8 660.3,963.0 664.7,955.3 668.0,960.8 673.5,965.2 676.8,969.6 682.3,974.0 685.6,978.4 690.0,982.8 694.3,986.1 696.5,990.5 696.5,996.0 694.3,1000.4 690.0,1001.5 685.6,1004.8 681.2,1009.2 676.8,1013.6 672.4,1018.0 668.0,1021.3 663.6,1021.3 661.4,1018.0 657.0,1015.8 652.6,1013.6 648.2,1011.4 641.6,1009.2 637.2,1007.0 632.8,1002.6 628.4,998.2 621.8,1000.4 617.4,991.6" fill="#fff" stroke="#d6a462" stroke-width="1.05"/>
<polygon points="709.0,893.9 715.0,885.9 726.9,881.9 738.9,877.9 750.9,879.9 760.9,881.9 768.9,877.9 778.8,871.9 786.8,867.9 794.8,863.9 802.8,867.9 806.8,875.9 814.8,879.9 822.7,877.9 830.7,873.9 834.7,869.9 836.7,863.9 840.7,869.9 842.7,877.9 846.7,883.9 850.7,887.9 850.7,893.9 846.7,897.9 840.7,901.9 838.7,907.8 836.7,913.8 832.7,919.8 830.7,929.8 832.7,937.8 830.7,945.8 828.7,955.7 822.7,961.7 820.7,965.7 826.7,969.7 830.7,977.7 826.7,985.7 822.7,991.7 814.8,993.6 806.8,995.6 798.8,997.6 794.8,1003.6 790.8,1009.6 788.8,1017.6 786.8,1023.6 782.8,1013.6 776.8,1005.6 770.9,995.6 764.9,987.7 756.9,981.7 748.9,977.7 742.9,973.7 737.1,973.9 736.1,967.3 733.9,962.9 729.5,958.5 720.8,958.5 717.4,956.3 718.6,951.9 725.2,949.7 731.7,950.7 736.1,949.7 738.3,945.4 736.1,941.0 731.7,936.6 728.9,927.8 723.0,921.8 719.0,915.8 717.0,907.8 711.0,901.9" fill="#fff" stroke="#d6a462" stroke-width="1.05"/>
<polygon points="782.8,859.9 786.8,854.0 794.8,852.0 806.8,850.0 814.8,846.0 822.7,844.0 830.7,840.0 838.7,846.0 842.7,854.0 842.7,863.9 840.7,869.9 836.7,863.9 834.7,869.9 830.7,873.9 822.7,877.9 814.8,879.9 806.8,875.9 802.8,867.9 794.8,863.9 786.8,867.9 778.8,871.9" fill="#fff" stroke="#d6a462" stroke-width="1.05"/>
<polygon points="593.8,1010.0 597.8,1004.0 605.8,1008.0 615.8,1014.0 619.8,1020.0 623.8,1012.0 629.8,1006.0 639.7,1010.0 649.7,1012.0 659.7,1016.0 663.7,1022.0 657.7,1027.9 655.7,1035.9 659.7,1043.9 661.7,1051.9 657.7,1057.9 653.7,1065.9 649.7,1075.8 647.7,1079.8 643.7,1087.8 639.7,1095.8 635.7,1097.8 631.8,1093.8 625.8,1091.8 617.8,1089.8 609.8,1087.8 605.8,1083.8 601.8,1079.8 595.8,1075.8 587.9,1071.8 579.9,1067.9 577.9,1061.9 585.9,1055.9 591.8,1051.9 595.8,1045.9 597.8,1037.9 595.8,1029.9 593.8,1020.0" fill="#fff" stroke="#d6a462" stroke-width="1.05"/>
<polygon points="542.0,1022.0 549.9,1018.0 559.9,1016.0 571.9,1016.0 581.9,1020.0 583.9,1025.9 579.9,1029.9 571.9,1035.9 563.9,1039.9 555.9,1045.9 549.9,1043.9 543.9,1035.9 542.0,1029.9" fill="#fff" stroke="#d6a462" stroke-width="1.05"/>
<polygon points="579.9,1029.9 583.9,1025.9 587.9,1016.0 593.8,1012.0 595.8,1020.0 595.8,1029.9 597.8,1037.9 595.8,1045.9 591.8,1051.9 585.9,1055.9 577.9,1061.9 567.9,1057.9 561.9,1053.9 559.9,1047.9 563.9,1039.9 571.9,1035.9" fill="#fff" stroke="#d6a462" stroke-width="1.05"/>
<polygon points="557.9,1059.9 567.9,1057.9 577.9,1061.9 579.9,1067.9 581.9,1073.8 575.9,1077.8 571.9,1083.8 565.9,1081.8 559.9,1079.8 557.9,1071.8" fill="#fff" stroke="#d6a462" stroke-width="1.05"/>
<polygon points="571.9,1083.8 575.9,1077.8 581.9,1073.8 589.8,1071.8 597.8,1075.8 601.8,1079.8 599.8,1087.8 595.8,1091.8 587.9,1095.8 579.9,1093.8 573.9,1089.8" fill="#fff" stroke="#d6a462" stroke-width="1.05"/>
<polygon points="595.8,1091.8 599.8,1087.8 605.8,1085.8 611.8,1087.8 617.8,1091.8 615.8,1097.8 609.8,1101.8 601.8,1105.8 595.8,1105.8 593.8,1099.8" fill="#fff" stroke="#d6a462" stroke-width="1.05"/>
<polygon points="727.5,1091.8 729.5,1087.8 733.5,1083.8 739.5,1079.8 747.5,1077.8 759.5,1079.8 767.5,1081.8 775.4,1085.8 779.4,1091.8 781.4,1099.8 787.4,1107.8 793.4,1113.7 787.4,1117.7 779.4,1121.7 771.4,1127.7 759.5,1131.7 751.5,1133.7 745.5,1129.7 741.5,1121.7 735.5,1119.7 731.5,1123.7 729.5,1131.7 727.5,1139.7 721.6,1135.7 717.6,1131.7 717.6,1125.7 721.6,1119.7 727.5,1109.8 729.5,1099.8" fill="#fff" stroke="#d6a462" stroke-width="1.05"/>
<polygon points="687.6,1127.7 691.6,1121.7 695.6,1119.7 703.6,1123.7 711.6,1127.7 717.6,1131.7 719.6,1135.7 717.6,1137.7 709.6,1139.7 699.6,1139.7 689.6,1141.7 679.6,1139.7 675.7,1139.7 679.6,1135.7 683.6,1131.7" fill="#fff" stroke="#d6a462" stroke-width="1.05"/>
<polygon points="643.7,1159.6 647.7,1151.7 651.7,1143.7 651.7,1137.7 659.7,1131.7 667.7,1135.7 673.7,1139.7 679.6,1139.7 689.6,1141.7 699.6,1139.7 709.6,1139.7 719.6,1137.7 727.5,1139.7 729.5,1151.7 727.5,1157.7 719.6,1163.6 707.6,1169.6 695.6,1175.6 685.6,1183.6 679.6,1181.6 677.7,1171.6 675.7,1163.6 667.7,1161.6 659.7,1159.6 651.7,1159.6" fill="#fff" stroke="#d6a462" stroke-width="1.05"/>
<polygon points="790.8,1009.6 798.8,1013.6 802.8,1011.6 808.8,1017.6 814.8,1025.6 816.7,1033.6 810.8,1037.6 806.8,1043.5 802.8,1047.5 798.8,1049.5 794.8,1041.5 790.8,1031.6 788.8,1023.6" fill="#fff" stroke="#d6a462" stroke-width="1.05"/>
<polygon points="798.8,1049.5 802.8,1047.5 810.8,1037.6 818.7,1029.6 826.7,1029.6 834.7,1033.6 838.7,1039.5 842.7,1045.5 848.7,1049.5 854.7,1055.5 842.7,1061.5 832.7,1069.5 822.7,1071.5 816.7,1069.5 816.7,1057.5 810.8,1055.5 804.8,1055.5" fill="#fff" stroke="#d6a462" stroke-width="1.05"/>
<polygon points="792.8,1009.6 798.8,1005.6 806.8,997.6 814.8,993.6 822.7,991.7 830.7,985.7 830.7,981.7 842.7,979.7 854.7,981.7 862.6,989.7 870.6,999.6 872.6,1009.6 866.6,1017.6 858.7,1021.6 846.7,1029.6 838.7,1033.6 834.7,1033.6 826.7,1029.6 818.7,1029.6 814.8,1025.6 808.8,1017.6 802.8,1011.6" fill="#fff" stroke="#d6a462" stroke-width="1.05"/>
<polygon points="838.7,1033.6 846.7,1029.6 858.7,1021.6 866.6,1017.6 868.6,1029.6 872.6,1041.5 872.6,1051.5 862.6,1053.5 854.7,1055.5 848.7,1049.5 842.7,1045.5 838.7,1039.5" fill="#fff" stroke="#d6a462" stroke-width="1.05"/>
<polygon points="912.5,901.9 906.6,891.9 906.6,879.9 910.5,865.9 918.5,856.9 922.5,861.9 922.5,871.9 932.5,877.9 946.5,879.9 958.4,881.9 972.4,882.9 970.4,865.9 968.4,857.9 976.4,850.0 986.4,836.0 994.4,846.0 1002.3,857.9 1008.3,869.9 1018.3,871.9 1030.3,867.9 1042.3,861.9 1048.2,852.0 1054.2,857.9 1058.2,871.9 1062.2,887.9 1060.2,897.9 1056.2,903.8 1052.2,911.8 1050.2,921.8 1042.3,919.8 1034.3,917.8 1030.3,921.8 1026.3,933.8 1024.3,943.8 1022.3,953.7 1018.3,963.7 1018.3,973.7 1016.3,983.7 1010.3,991.7 1008.3,989.7 1002.3,977.7 996.4,969.7 988.4,959.7 982.4,951.7 976.4,945.8 968.4,941.8 966.4,933.8 966.4,925.8 962.4,919.8 956.4,913.8 952.5,913.8 950.5,921.8 946.5,925.8 938.5,921.8 932.5,913.8 924.5,907.8 918.5,903.8" fill="#fff" stroke="#d6a462" stroke-width="1.05"/>
<polygon points="912.5,903.8 918.5,903.8 924.5,907.8 932.5,913.8 938.5,921.8 946.5,925.8 950.5,921.8 952.5,913.8 956.4,913.8 962.4,919.8 966.4,925.8 966.4,933.8 968.4,941.8 976.4,945.8 982.4,951.7 988.4,959.7 996.4,969.7 1002.3,977.7 1008.3,989.7 1000.3,997.6 992.4,991.7 986.4,995.6 982.4,1001.6 976.4,1003.6 970.4,1009.6 962.4,1013.6 954.4,1013.6 946.5,1007.6 938.5,1005.6 930.5,1003.6 926.5,993.6 918.5,985.7 910.5,977.7 904.6,969.7 902.6,957.7 904.6,945.8 904.6,933.8 904.6,921.8 906.6,915.8 910.5,909.8" fill="#fff" stroke="#d6a462" stroke-width="1.05"/>
<polygon points="906.6,803.5 918.5,805.5 932.5,817.5 942.5,813.5 956.4,811.5 968.4,821.5 978.4,829.4 986.4,834.0 986.4,836.0 976.4,850.0 968.4,857.9 970.4,865.9 972.4,882.9 958.4,881.9 946.5,879.9 932.5,877.9 922.5,871.9 922.5,861.9 918.5,856.9 910.5,865.9 910.5,859.9 912.5,850.0 914.5,842.0 918.5,834.0 920.5,834.0 920.5,817.5" fill="#fff" stroke="#d6a462" stroke-width="1.05"/>
<polygon points="838.7,805.5 844.7,801.5 854.7,799.5 862.6,801.5 870.6,805.5 878.6,805.5 886.6,805.5 894.6,807.5 902.6,805.5 906.6,803.5 918.5,805.5 920.5,817.5 920.5,834.0 918.5,834.0 914.5,842.0 912.5,850.0 910.5,859.9 908.5,873.9 902.6,875.9 894.6,873.9 882.6,869.9 874.6,859.9 870.6,850.0 858.7,848.0 848.7,846.0 842.7,840.0 834.7,836.0 832.7,834.0 832.7,834.0 834.7,823.5 836.7,813.5" fill="#fff" stroke="#d6a462" stroke-width="1.05"/>
<polygon points="842.7,854.0 848.7,846.0 858.7,848.0 870.6,850.0 874.6,859.9 882.6,869.9 894.6,873.9 902.6,875.9 908.5,873.9 906.6,879.9 906.6,891.9 912.5,901.9 906.6,913.8 902.6,927.8 894.6,925.8 890.6,911.8 882.6,913.8 874.6,913.8 872.6,903.8 874.6,893.9 872.6,881.9 862.6,879.9 860.7,869.9 858.7,859.9 850.7,857.9" fill="#fff" stroke="#d6a462" stroke-width="1.05"/>
<polygon points="842.7,863.9 850.7,857.9 858.7,859.9 860.7,869.9 862.6,879.9 872.6,881.9 874.6,893.9 872.6,903.8 874.6,913.8 878.6,919.8 882.6,929.8 878.6,937.8 874.6,945.8 870.6,935.8 862.6,931.8 854.7,921.8 846.7,909.8 838.7,907.8 840.7,901.9 846.7,897.9 850.7,893.9 850.7,887.9 846.7,883.9 842.7,877.9 840.7,869.9" fill="#fff" stroke="#d6a462" stroke-width="1.05"/>
<polygon points="830.7,945.8 832.7,937.8 830.7,929.8 832.7,919.8 836.7,913.8 838.7,907.8 846.7,909.8 854.7,921.8 862.6,931.8 870.6,935.8 874.6,945.8 872.6,953.7 874.6,961.7 882.6,969.7 874.6,973.7 870.6,977.7 862.6,973.7 852.7,963.7 850.7,953.7 842.7,943.8" fill="#fff" stroke="#d6a462" stroke-width="1.05"/>
<polygon points="820.7,965.7 822.7,961.7 828.7,955.7 830.7,945.8 842.7,943.8 850.7,953.7 852.7,963.7 862.6,973.7 870.6,977.7 874.6,985.7 872.6,993.6 870.6,999.6 862.6,989.7 854.7,981.7 842.7,979.7 830.7,981.7 826.7,969.7" fill="#fff" stroke="#d6a462" stroke-width="1.05"/>
<polygon points="882.6,929.8 894.6,925.8 902.6,927.8 904.6,933.8 904.6,945.8 902.6,957.7 904.6,969.7 902.6,973.7 888.6,973.7 882.6,969.7 874.6,961.7 872.6,953.7 874.6,945.8 878.6,937.8" fill="#fff" stroke="#d6a462" stroke-width="1.05"/>
<polygon points="872.6,973.7 888.6,973.7 902.6,973.7 910.5,977.7 918.5,985.7 926.5,993.6 930.5,1003.6 934.5,1007.6 932.5,1015.6 918.5,1017.6 902.6,1021.6 890.6,1025.6 882.6,1017.6 872.6,1009.6 870.6,999.6 872.6,993.6 874.6,985.7" fill="#fff" stroke="#d6a462" stroke-width="1.05"/>
<polygon points="599.5,345.5 600.5,337.0 606.5,333.0 617.5,332.0 621.5,327.0 628.0,328.0 628.8,334.4 627.4,342.0 631.4,348.9 629.4,353.9 623.8,358.9 618.5,363.9 609.5,368.9 602.5,372.9 601.9,377.9 607.5,384.3 611.5,389.5 619.5,389.9 626.4,384.3 633.4,388.9 639.4,396.8 645.8,400.8 650.4,406.8 651.4,414.2 648.4,417.4 643.8,412.8 635.4,411.8 629.4,412.8 619.5,415.8 611.5,419.8 609.5,426.2 615.5,430.2 624.4,430.8 631.4,432.8 627.4,439.7 623.8,445.7 619.5,450.1 615.5,454.7 609.5,460.7 603.5,463.7 601.5,467.7 608.5,475.7 601.5,481.6 595.5,487.6 590.5,495.6 587.5,505.6 579.5,506.6 573.6,502.6 563.6,500.6 557.6,505.6 553.6,511.6 547.6,515.6 543.6,519.6 535.6,525.6 533.6,533.5 529.7,539.5 531.6,545.5 528.7,550.5 524.7,551.5 519.7,547.5 511.7,541.5 507.7,537.5 504.1,533.5 507.7,525.6 504.7,517.6 499.7,513.6 493.7,507.6 491.7,497.6 483.8,491.6 478.8,493.6 477.8,481.6 477.8,469.7 479.8,463.7 489.7,463.7 499.7,465.7 511.7,466.7 523.7,464.7 531.6,469.7 539.6,475.7 543.6,473.7 544.0,461.7 542.6,449.7 539.6,437.7 531.6,431.8 523.7,435.7 515.7,437.7 511.7,433.8 515.7,425.8 519.7,419.8 517.7,414.2 515.7,409.8 519.7,403.8 527.7,401.8 531.6,403.8 538.6,401.4 547.6,398.8 558.6,395.8 553.6,388.9 554.6,381.9 558.6,374.9 561.6,366.9 566.6,369.5 573.6,374.3 587.5,367.9 598.5,359.9" fill="#c6e8a5" stroke="#1a1410" stroke-width="1.2"/>
<polygon points="652.4,336.0 655.4,333.0 659.4,333.6 661.8,338.0 660.4,343.0 657.4,344.9 654.4,342.0" fill="#c6e8a5" stroke="#1a1410" stroke-width="1.2"/>
<polygon points="586.3,613.5 587.5,613.9 589.5,623.9 591.5,629.9 601.5,637.9 603.5,643.9 599.5,651.8 593.5,657.8 591.5,667.8 593.5,677.8 591.5,689.8 583.5,693.7 579.5,695.7 575.6,701.7 571.6,705.7 563.6,709.7 561.6,707.7 563.6,701.7 565.6,693.7 566.6,685.8 567.6,675.8 563.6,667.8 559.6,661.8 561.6,657.8 567.6,653.8 571.6,645.9 569.2,640.1 566.2,635.5 564.4,627.9 569.2,617.9" fill="#c6e8a5" stroke="#1a1410" stroke-width="1.2"/>
<polygon points="585.4,586.5 593.2,582.6 601.0,579.5 607.3,578.7 613.5,584.1 619.7,587.3 622.8,588.8 625.9,581.0 629.1,574.8 635.3,573.2 638.4,562.3 643.1,556.1 649.3,554.5 654.0,556.1 657.1,562.3 661.8,567.0 671.1,570.1 677.4,571.7 678.9,574.8 674.2,581.0 669.6,587.3 668.0,593.5 674.2,598.2 682.0,602.8 691.4,605.9 700.7,604.4 702.3,609.1 707.0,613.7 714.8,612.2 716.3,618.4 714.8,627.8 713.2,635.6 714.8,643.3 716.3,649.6 711.3,653.8 709.3,657.8 701.3,665.8 695.3,677.8 691.3,685.8 683.3,689.8 681.3,695.7 675.3,699.7 667.3,697.7 659.4,691.7 657.4,693.7 651.4,701.7 643.4,709.7 647.4,721.7 645.4,729.7 640.0,738.4 631.2,735.7 625.8,734.1 617.1,733.1 614.9,751.0 604.9,750.6 603.9,744.0 594.9,737.4 597.1,725.3 588.3,726.9 581.7,717.7 566.4,728.1 553.2,721.5 552.0,738.4 547.0,743.0 539.6,741.6 531.6,737.6 521.7,737.6 521.7,725.7 523.7,715.7 529.7,707.7 527.7,699.7 531.6,696.7 543.6,697.7 551.6,701.7 555.6,707.7 563.6,709.7 571.6,705.7 575.6,701.7 579.5,695.7 583.5,693.7 591.5,689.8 593.5,677.8 591.5,667.8 593.5,657.8 599.5,651.8 603.5,643.9 601.5,637.9 591.5,629.9 589.5,623.9 587.5,613.9 591.5,605.9 587.5,598.0 585.5,588.0" fill="#38a556" stroke="#1a1410" stroke-width="1.2"/>
<polygon points="681.3,695.7 683.3,689.8 691.3,685.8 695.3,689.8 707.3,693.7 715.2,697.7 717.2,705.7 711.3,713.7 709.3,721.7 703.3,727.7 695.3,725.7 683.3,721.7 675.3,717.7 679.3,709.7 681.3,701.7" fill="#85cf7d" stroke="#1a1410" stroke-width="1.2"/>
<polygon points="738.9,775.6 746.9,775.6 754.9,775.6 762.9,773.6 770.9,769.6 778.8,765.6 786.8,757.6 790.8,751.6 792.8,745.6 796.8,737.6 798.8,729.7 806.8,727.7 812.8,729.7 816.7,733.7 820.7,735.7 828.7,735.7 830.7,729.7 832.7,721.7 836.7,713.7 846.7,711.7 858.7,711.7 870.6,711.7 878.6,713.7 880.6,721.7 884.6,729.7 884.6,737.6 880.6,743.6 878.6,749.6 882.6,757.6 884.6,765.6 882.6,773.6 884.6,779.6 888.6,785.5 894.6,789.5 902.6,793.5 906.6,799.5 902.6,805.5 894.6,807.5 886.6,805.5 878.6,805.5 870.6,805.5 862.6,801.5 854.7,799.5 844.7,801.5 838.7,805.5 834.7,801.5 830.7,803.5 822.7,805.5 814.8,807.5 806.8,809.5 798.8,811.5 788.8,815.5 782.8,817.5 772.8,813.5 762.9,809.5 754.9,803.5 748.9,797.5 744.9,791.5 742.9,783.5" fill="#85cf7d" stroke="#1a1410" stroke-width="1.2"/>
<polygon points="451.8,895.9 459.8,897.9 463.8,899.9 467.8,893.9 469.8,887.9 473.8,881.9 483.8,879.9 491.7,875.9 501.7,873.9 511.7,871.9 521.7,873.9 531.6,875.9 531.6,883.9 535.6,881.9 541.6,875.9 547.6,873.9 555.6,875.9 559.6,883.9 563.6,891.9 571.6,893.9 573.6,901.9 575.6,909.8 579.5,917.8 581.5,923.8 575.6,927.8 567.6,927.8 561.6,925.8 555.6,927.8 551.6,933.8 549.6,941.8 543.6,945.8 535.6,949.7 527.7,951.7 523.7,953.7 527.7,961.7 529.7,969.7 531.6,977.7 535.6,981.7 541.6,985.7 545.6,989.7 547.6,993.6 545.6,997.6 539.6,995.6 531.6,989.7 523.7,981.7 517.7,975.7 511.7,969.7 503.7,965.7 495.7,971.7 491.7,975.7 487.7,977.7 485.7,981.7 481.8,979.7 481.8,969.7 479.8,957.7 477.8,947.7 471.8,945.8 465.8,947.7 461.8,953.7 459.8,961.7 461.8,969.7 463.8,977.7 455.8,979.7 445.8,981.7 439.9,983.7 433.9,979.7 427.9,973.7 431.9,967.7 435.9,961.7 437.9,951.7 435.9,941.8 431.9,933.8 425.9,929.8 419.9,925.8 415.9,921.8 419.9,917.8 429.9,919.8 437.9,921.8 445.8,919.8 451.8,915.8 453.8,907.8" fill="#c6e8a5" stroke="#1a1410" stroke-width="1.2"/>
<polygon points="461.8,953.7 465.8,947.7 471.8,945.8 477.8,947.7 479.8,957.7 481.8,969.7 481.8,979.7 475.8,979.7 469.8,977.7 463.8,977.7 461.8,969.7 459.8,961.7" fill="#c6e8a5" stroke="#1a1410" stroke-width="1.2"/>
<polygon points="657.7,1027.9 663.7,1022.0 671.7,1023.9 679.6,1027.9 687.6,1033.9 699.6,1037.9 707.6,1041.9 705.6,1047.9 713.6,1051.9 717.6,1059.9 719.6,1067.9 721.6,1075.8 727.5,1083.8 727.5,1093.8 729.5,1099.8 727.5,1109.8 721.6,1119.7 717.6,1125.7 711.6,1127.7 703.6,1123.7 695.6,1119.7 691.6,1121.7 687.6,1127.7 683.6,1131.7 679.6,1135.7 673.7,1139.7 667.7,1135.7 659.7,1131.7 651.7,1129.7 647.7,1133.7 647.7,1139.7 641.7,1141.7 633.7,1141.7 627.8,1139.7 627.8,1131.7 629.8,1123.7 627.8,1115.7 629.8,1109.8 627.8,1103.8 635.7,1097.8 639.7,1095.8 643.7,1087.8 647.7,1079.8 649.7,1075.8 653.7,1065.9 657.7,1057.9 661.7,1051.9 659.7,1043.9 655.7,1035.9" fill="#c6e8a5" stroke="#1a1410" stroke-width="1.2"/>
<polygon points="671.3,1022.4 676.8,1013.6 681.2,1009.2 685.6,1004.8 690.0,1001.5 694.3,1000.4 696.5,996.0 698.7,997.1 700.9,998.2 705.3,1000.4 707.5,1004.8 707.5,1011.4 706.4,1018.0 707.5,1024.6 707.5,1032.3 707.5,1038.9 704.2,1040.0 699.8,1040.0 698.7,1035.6 696.5,1033.4 690.0,1032.3 683.4,1031.2 676.8,1029.0 672.4,1026.8" fill="#c6e8a5" stroke="#1a1410" stroke-width="1.2"/>
<polygon points="698.7,993.8 703.1,992.7 709.7,993.8 716.3,994.9 722.9,996.0 727.3,993.8 729.5,991.6 731.7,985.0 733.9,980.6 737.2,974.0 738.9,975.7 742.9,973.7 748.9,977.7 756.9,981.7 764.9,987.7 770.9,995.6 776.8,1005.6 782.8,1013.6 786.8,1023.6 790.8,1031.6 794.8,1041.5 798.8,1049.5 804.8,1055.5 810.8,1055.5 816.7,1057.5 815.3,1055.9 813.4,1065.9 809.4,1075.8 809.4,1083.8 799.4,1085.8 789.4,1087.8 779.4,1091.8 775.4,1085.8 767.5,1081.8 759.5,1079.8 747.5,1077.8 739.5,1079.8 733.5,1083.8 729.5,1087.8 725.5,1079.8 721.6,1069.8 717.6,1059.9 713.6,1051.9 705.6,1047.9 707.6,1039.9 707.6,1027.9 707.6,1016.0 707.6,1008.0 705.6,1000.0" fill="#85cf7d" stroke="#1a1410" stroke-width="1.2"/>
</g>
<g font-family="Liberation Sans" font-size="9.8" fill="#111" stroke="#111" stroke-width="0.15">
<text x="1321.0" y="319.6" textLength="86.7" lengthAdjust="spacingAndGlyphs">CITTA&#39; DI CASTELLO</text>
<text x="1231.6" y="344.7" textLength="63.5" lengthAdjust="spacingAndGlyphs">SAN GIUSTINO</text>
<text x="1195.3" y="375.0" textLength="36.7" lengthAdjust="spacingAndGlyphs">CITERNA</text>
<text x="1228.0" y="423.1" textLength="87.1" lengthAdjust="spacingAndGlyphs">CITTA&#39; DI CASTELLO</text>
<text x="1244.0" y="435.7" textLength="53.9" lengthAdjust="spacingAndGlyphs">GUARITI = 1</text>
<text x="1327.8" y="418.7" textLength="60.5" lengthAdjust="spacingAndGlyphs">PIETRALUNGA</text>
<text x="1298.5" y="476.0" textLength="42.9" lengthAdjust="spacingAndGlyphs">MONTONE</text>
<text x="1400.8" y="508.0" textLength="33.1" lengthAdjust="spacingAndGlyphs">GUBBIO</text>
<text x="1205.7" y="523.5" textLength="50.3" lengthAdjust="spacingAndGlyphs">UMBERTIDE</text>
<text x="1263.2" y="531.9" textLength="50.7" lengthAdjust="spacingAndGlyphs">UMBERTIDE</text>
<text x="1180.0" y="557.5" textLength="83.2" lengthAdjust="spacingAndGlyphs">LISCIANO NICCONE</text>
<text x="1447.5" y="451.1" textLength="106.6" lengthAdjust="spacingAndGlyphs">SCHEGGIA E PASCELUPO</text>
<text x="1464.3" y="486.0" textLength="61.8" lengthAdjust="spacingAndGlyphs">COSTACCIARO</text>
<text x="1494.8" y="510.3" textLength="34.9" lengthAdjust="spacingAndGlyphs">SIGILLO</text>
<text x="1485.4" y="532.5" textLength="77.2" lengthAdjust="spacingAndGlyphs">FOSSATO DI VICO</text>
<text x="1121.5" y="583.7" textLength="104.2" lengthAdjust="spacingAndGlyphs">TUORO SUL TRASIMENO</text>
<text x="1132.9" y="602.3" textLength="103.1" lengthAdjust="spacingAndGlyphs">TUORO SUL TRASIMENO</text>
<text x="1218.7" y="640.2" textLength="40.5" lengthAdjust="spacingAndGlyphs">MAGIONE</text>
<text x="1091.6" y="649.2" textLength="104.5" lengthAdjust="spacingAndGlyphs">CASTIGLIONE DEL LAGO</text>
<text x="1315.5" y="637.2" textLength="37.9" lengthAdjust="spacingAndGlyphs">PERUGIA</text>
<text x="1307.5" y="649.6" textLength="54.3" lengthAdjust="spacingAndGlyphs">GUARITI = 3</text>
<text x="1384.9" y="690.1" textLength="30.3" lengthAdjust="spacingAndGlyphs">BASTIA</text>
<text x="1372.3" y="702.5" textLength="54.9" lengthAdjust="spacingAndGlyphs">GUARITI = 2</text>
<text x="1141.8" y="703.5" textLength="39.0" lengthAdjust="spacingAndGlyphs">PACIANO</text>
<text x="1361.8" y="727.6" textLength="39.1" lengthAdjust="spacingAndGlyphs">BETTONA</text>
<text x="1323.0" y="743.4" textLength="34.0" lengthAdjust="spacingAndGlyphs">DERUTA</text>
<text x="1385.7" y="742.0" textLength="41.5" lengthAdjust="spacingAndGlyphs">CANNARA</text>
<text x="1186.7" y="744.6" textLength="38.6" lengthAdjust="spacingAndGlyphs">PIEGARO</text>
<text x="1086.0" y="752.2" textLength="85.4" lengthAdjust="spacingAndGlyphs">CITTA&#39; DELLA PIEVE</text>
<text x="1258.6" y="754.6" textLength="52.5" lengthAdjust="spacingAndGlyphs">MARSCIANO</text>
<text x="1401.0" y="773.3" textLength="39.9" lengthAdjust="spacingAndGlyphs">BEVAGNA</text>
<text x="1099.5" y="788.5" textLength="28.4" lengthAdjust="spacingAndGlyphs">FABRO</text>
<text x="1150.8" y="784.9" textLength="75.9" lengthAdjust="spacingAndGlyphs">MONTEGABBIONE</text>
<text x="1315.9" y="789.9" textLength="55.8" lengthAdjust="spacingAndGlyphs">COLLAZZONE</text>
<text x="1342.4" y="805.9" textLength="83.8" lengthAdjust="spacingAndGlyphs">GUALDO CATTANEO</text>
<text x="1117.5" y="813.8" textLength="28.3" lengthAdjust="spacingAndGlyphs">FABRO</text>
<text x="1481.8" y="582.9" textLength="72.3" lengthAdjust="spacingAndGlyphs">GUALDO TADINO</text>
<text x="1426.5" y="613.3" textLength="58.9" lengthAdjust="spacingAndGlyphs">VALFABBRICA</text>
<text x="1504.8" y="652.2" textLength="68.8" lengthAdjust="spacingAndGlyphs">NOCERA UMBRA</text>
<text x="1434.5" y="677.1" textLength="28.0" lengthAdjust="spacingAndGlyphs">ASSISI</text>
<text x="1490.2" y="697.5" textLength="47.1" lengthAdjust="spacingAndGlyphs">VALTOPINA</text>
<text x="1450.9" y="734.0" textLength="31.3" lengthAdjust="spacingAndGlyphs">SPELLO</text>
<text x="1509.4" y="756.0" textLength="38.7" lengthAdjust="spacingAndGlyphs">FOLIGNO</text>
<text x="1501.4" y="768.3" textLength="54.3" lengthAdjust="spacingAndGlyphs">GUARITI = 2</text>
<text x="1559.6" y="811.2" textLength="38.0" lengthAdjust="spacingAndGlyphs">SELLANO</text>
<text x="1174.2" y="820.0" textLength="41.1" lengthAdjust="spacingAndGlyphs">PARRANO</text>
<text x="1217.3" y="822.4" textLength="61.8" lengthAdjust="spacingAndGlyphs">SAN VENANZO</text>
<text x="1142.8" y="843.1" textLength="35.4" lengthAdjust="spacingAndGlyphs">FICULLE</text>
<text x="1086.4" y="848.1" textLength="45.1" lengthAdjust="spacingAndGlyphs">ALLERONA</text>
<text x="1239.2" y="847.9" textLength="119.2" lengthAdjust="spacingAndGlyphs">MONTE CASTELLO DI VIBIO</text>
<text x="1372.3" y="845.3" textLength="88.0" lengthAdjust="spacingAndGlyphs">GIANO DELL&#39;UMBRIA</text>
<text x="1091.0" y="886.8" textLength="80.8" lengthAdjust="spacingAndGlyphs">CASTEL VISCARDO</text>
<text x="1320.5" y="884.2" textLength="21.3" lengthAdjust="spacingAndGlyphs">TODI</text>
<text x="1355.8" y="889.4" textLength="73.4" lengthAdjust="spacingAndGlyphs">MASSA MARTANA</text>
<text x="1179.4" y="906.8" textLength="38.7" lengthAdjust="spacingAndGlyphs">ORVIETO</text>
<text x="1171.4" y="919.0" textLength="54.3" lengthAdjust="spacingAndGlyphs">GUARITI = 1</text>
<text x="1075.0" y="925.0" textLength="74.4" lengthAdjust="spacingAndGlyphs">CASTEL GIORGIO</text>
<text x="1250.6" y="930.3" textLength="31.9" lengthAdjust="spacingAndGlyphs">BASCHI</text>
<text x="1149.8" y="941.7" textLength="35.5" lengthAdjust="spacingAndGlyphs">PORANO</text>
<text x="1139.8" y="953.7" textLength="53.9" lengthAdjust="spacingAndGlyphs">GUARITI = 1</text>
<text x="1370.3" y="946.9" textLength="61.7" lengthAdjust="spacingAndGlyphs">ACQUASPARTA</text>
<text x="1285.1" y="960.9" textLength="82.6" lengthAdjust="spacingAndGlyphs">AVIGLIANO UMBRO</text>
<text x="1320.5" y="977.2" textLength="75.8" lengthAdjust="spacingAndGlyphs">MONTECASTRILLI</text>
<text x="1244.6" y="986.8" textLength="41.9" lengthAdjust="spacingAndGlyphs">GUARDEA</text>
<text x="1291.5" y="990.8" textLength="41.5" lengthAdjust="spacingAndGlyphs">GUARDEA</text>
<text x="1363.4" y="1004.0" textLength="51.8" lengthAdjust="spacingAndGlyphs">SAN GEMINI</text>
<text x="1361.8" y="1016.1" textLength="54.4" lengthAdjust="spacingAndGlyphs">GUARITI = 1</text>
<text x="1239.2" y="1009.6" textLength="37.9" lengthAdjust="spacingAndGlyphs">ALVIANO</text>
<text x="1303.5" y="1032.7" textLength="32.9" lengthAdjust="spacingAndGlyphs">AMELIA</text>
<text x="1235.6" y="1053.1" textLength="52.3" lengthAdjust="spacingAndGlyphs">ATTIGLIANO</text>
<text x="1267.2" y="1065.4" textLength="26.7" lengthAdjust="spacingAndGlyphs">GIOVE</text>
<text x="1423.9" y="818.4" textLength="58.3" lengthAdjust="spacingAndGlyphs">MONTEFALCO</text>
<text x="1495.4" y="820.0" textLength="25.3" lengthAdjust="spacingAndGlyphs">TREVI</text>
<text x="1482.8" y="846.9" textLength="112.4" lengthAdjust="spacingAndGlyphs">CAMPELLO SUL CLITUNNO</text>
<text x="1635.9" y="838.3" textLength="25.5" lengthAdjust="spacingAndGlyphs">PRECI</text>
<text x="1541.7" y="869.5" textLength="94.8" lengthAdjust="spacingAndGlyphs">CERRETO DI SPOLETO</text>
<text x="1673.0" y="893.2" textLength="33.9" lengthAdjust="spacingAndGlyphs">NORCIA</text>
<text x="1527.3" y="894.6" textLength="66.7" lengthAdjust="spacingAndGlyphs">VALLO DI NERA</text>
<text x="1460.3" y="918.2" textLength="38.9" lengthAdjust="spacingAndGlyphs">SPOLETO</text>
<text x="1497.8" y="932.7" textLength="113.7" lengthAdjust="spacingAndGlyphs">SANT&#39;ANATOLIA DI NARCO</text>
<text x="1629.5" y="951.7" textLength="31.9" lengthAdjust="spacingAndGlyphs">CASCIA</text>
<text x="1517.7" y="957.1" textLength="52.3" lengthAdjust="spacingAndGlyphs">SCHEGGINO</text>
<text x="1507.8" y="995.2" textLength="53.4" lengthAdjust="spacingAndGlyphs">FERENTILLO</text>
<text x="1465.5" y="1012.0" textLength="66.6" lengthAdjust="spacingAndGlyphs">MONTEFRANCO</text>
<text x="1437.9" y="1025.5" textLength="26.4" lengthAdjust="spacingAndGlyphs">TERNI</text>
<text x="1423.5" y="1037.5" textLength="54.7" lengthAdjust="spacingAndGlyphs">GUARITI = 2</text>
<text x="1536.7" y="1028.5" textLength="32.5" lengthAdjust="spacingAndGlyphs">POLINO</text>
<text x="1360.6" y="1073.2" textLength="27.0" lengthAdjust="spacingAndGlyphs">NARNI</text>
<text x="1346.7" y="1085.4" textLength="54.5" lengthAdjust="spacingAndGlyphs">GUARITI = 1</text>
<text x="1421.5" y="1092.4" textLength="52.9" lengthAdjust="spacingAndGlyphs">STRONCONE</text>
<text x="1371.2" y="1117.7" textLength="41.9" lengthAdjust="spacingAndGlyphs">OTRICOLI</text>
<text x="1346.7" y="1140.7" textLength="85.2" lengthAdjust="spacingAndGlyphs">CALVI DELL&#39;UMBRIA</text>
</g>
</svg>
</body></html>
